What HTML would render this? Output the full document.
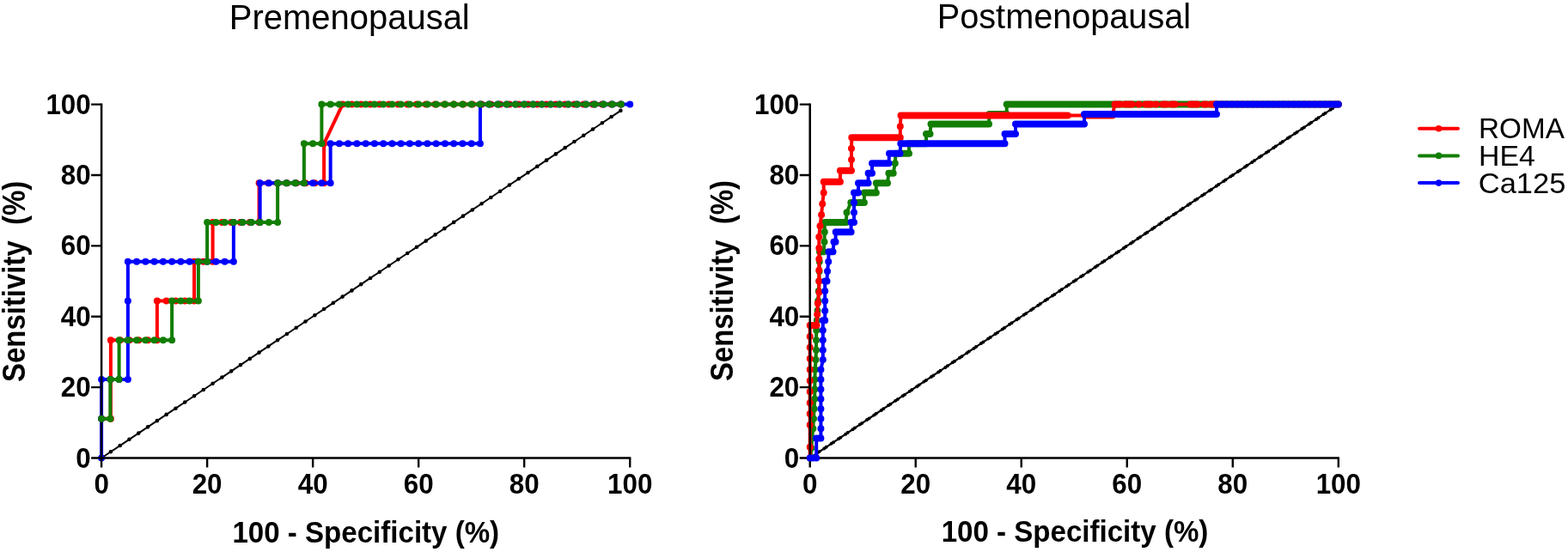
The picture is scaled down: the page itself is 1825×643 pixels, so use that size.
<!DOCTYPE html>
<html><head><meta charset="utf-8"><title>ROC curves</title>
<style>html,body{margin:0;padding:0;background:#fff}svg{display:block}</style>
</head><body>
<svg width="1825" height="643" viewBox="0 0 1825 643">
<style>
text{font-family:"Liberation Sans",Arial,sans-serif;fill:#000}
.tk{font-weight:bold;font-size:32.5px}
.tt{font-size:40.5px}
.at{font-weight:bold;font-size:36px}
.lg{font-size:33.8px}
</style>
<rect width="1825" height="643" fill="#fff"/>
<text transform="translate(406.8 34.1) scale(0.987 1)" text-anchor="middle" class="tt">Premenopausal</text>
<text transform="translate(1238.45 32.7) scale(0.979 1)" text-anchor="middle" class="tt">Postmenopausal</text>
<polyline points="118.1,533.5 128.89,526.27 139.68,519.05 150.47,511.82 161.26,504.59 172.06,497.37 182.85,490.14 193.64,482.92 204.43,475.69 215.22,468.46 226.01,461.24 236.8,454.01 247.59,446.78 258.39,439.56 269.18,432.33 279.97,425.11 290.76,417.88 301.55,410.65 312.34,403.43 323.13,396.2 333.92,388.97 344.72,381.75 355.51,374.52 366.3,367.29 377.09,360.07 387.88,352.84 398.67,345.62 409.46,338.39 420.25,331.16 431.05,323.94 441.84,316.71 452.63,309.48 463.42,302.26 474.21,295.03 485,287.81 495.79,280.58 506.58,273.35 517.38,266.13 528.17,258.9 538.96,251.67 549.75,244.45 560.54,237.22 571.33,229.99 582.12,222.77 592.91,215.54 603.71,208.32 614.5,201.09 625.29,193.86 636.08,186.64 646.87,179.41 657.66,172.18 668.45,164.96 679.24,157.73 690.04,150.51 700.83,143.28 711.62,136.05 722.41,128.83" fill="none" stroke="#000" stroke-width="2" stroke-linejoin="round" stroke-linecap="round"/>
<path d="M115.8 533.5a2.3 2.3 0 1 0 4.6 0a2.3 2.3 0 1 0 -4.6 0M126.59 526.27a2.3 2.3 0 1 0 4.6 0a2.3 2.3 0 1 0 -4.6 0M137.38 519.05a2.3 2.3 0 1 0 4.6 0a2.3 2.3 0 1 0 -4.6 0M148.17 511.82a2.3 2.3 0 1 0 4.6 0a2.3 2.3 0 1 0 -4.6 0M158.96 504.59a2.3 2.3 0 1 0 4.6 0a2.3 2.3 0 1 0 -4.6 0M169.76 497.37a2.3 2.3 0 1 0 4.6 0a2.3 2.3 0 1 0 -4.6 0M180.55 490.14a2.3 2.3 0 1 0 4.6 0a2.3 2.3 0 1 0 -4.6 0M191.34 482.92a2.3 2.3 0 1 0 4.6 0a2.3 2.3 0 1 0 -4.6 0M202.13 475.69a2.3 2.3 0 1 0 4.6 0a2.3 2.3 0 1 0 -4.6 0M212.92 468.46a2.3 2.3 0 1 0 4.6 0a2.3 2.3 0 1 0 -4.6 0M223.71 461.24a2.3 2.3 0 1 0 4.6 0a2.3 2.3 0 1 0 -4.6 0M234.5 454.01a2.3 2.3 0 1 0 4.6 0a2.3 2.3 0 1 0 -4.6 0M245.29 446.78a2.3 2.3 0 1 0 4.6 0a2.3 2.3 0 1 0 -4.6 0M256.09 439.56a2.3 2.3 0 1 0 4.6 0a2.3 2.3 0 1 0 -4.6 0M266.88 432.33a2.3 2.3 0 1 0 4.6 0a2.3 2.3 0 1 0 -4.6 0M277.67 425.11a2.3 2.3 0 1 0 4.6 0a2.3 2.3 0 1 0 -4.6 0M288.46 417.88a2.3 2.3 0 1 0 4.6 0a2.3 2.3 0 1 0 -4.6 0M299.25 410.65a2.3 2.3 0 1 0 4.6 0a2.3 2.3 0 1 0 -4.6 0M310.04 403.43a2.3 2.3 0 1 0 4.6 0a2.3 2.3 0 1 0 -4.6 0M320.83 396.2a2.3 2.3 0 1 0 4.6 0a2.3 2.3 0 1 0 -4.6 0M331.62 388.97a2.3 2.3 0 1 0 4.6 0a2.3 2.3 0 1 0 -4.6 0M342.42 381.75a2.3 2.3 0 1 0 4.6 0a2.3 2.3 0 1 0 -4.6 0M353.21 374.52a2.3 2.3 0 1 0 4.6 0a2.3 2.3 0 1 0 -4.6 0M364 367.29a2.3 2.3 0 1 0 4.6 0a2.3 2.3 0 1 0 -4.6 0M374.79 360.07a2.3 2.3 0 1 0 4.6 0a2.3 2.3 0 1 0 -4.6 0M385.58 352.84a2.3 2.3 0 1 0 4.6 0a2.3 2.3 0 1 0 -4.6 0M396.37 345.62a2.3 2.3 0 1 0 4.6 0a2.3 2.3 0 1 0 -4.6 0M407.16 338.39a2.3 2.3 0 1 0 4.6 0a2.3 2.3 0 1 0 -4.6 0M417.95 331.16a2.3 2.3 0 1 0 4.6 0a2.3 2.3 0 1 0 -4.6 0M428.75 323.94a2.3 2.3 0 1 0 4.6 0a2.3 2.3 0 1 0 -4.6 0M439.54 316.71a2.3 2.3 0 1 0 4.6 0a2.3 2.3 0 1 0 -4.6 0M450.33 309.48a2.3 2.3 0 1 0 4.6 0a2.3 2.3 0 1 0 -4.6 0M461.12 302.26a2.3 2.3 0 1 0 4.6 0a2.3 2.3 0 1 0 -4.6 0M471.91 295.03a2.3 2.3 0 1 0 4.6 0a2.3 2.3 0 1 0 -4.6 0M482.7 287.81a2.3 2.3 0 1 0 4.6 0a2.3 2.3 0 1 0 -4.6 0M493.49 280.58a2.3 2.3 0 1 0 4.6 0a2.3 2.3 0 1 0 -4.6 0M504.28 273.35a2.3 2.3 0 1 0 4.6 0a2.3 2.3 0 1 0 -4.6 0M515.08 266.13a2.3 2.3 0 1 0 4.6 0a2.3 2.3 0 1 0 -4.6 0M525.87 258.9a2.3 2.3 0 1 0 4.6 0a2.3 2.3 0 1 0 -4.6 0M536.66 251.67a2.3 2.3 0 1 0 4.6 0a2.3 2.3 0 1 0 -4.6 0M547.45 244.45a2.3 2.3 0 1 0 4.6 0a2.3 2.3 0 1 0 -4.6 0M558.24 237.22a2.3 2.3 0 1 0 4.6 0a2.3 2.3 0 1 0 -4.6 0M569.03 229.99a2.3 2.3 0 1 0 4.6 0a2.3 2.3 0 1 0 -4.6 0M579.82 222.77a2.3 2.3 0 1 0 4.6 0a2.3 2.3 0 1 0 -4.6 0M590.61 215.54a2.3 2.3 0 1 0 4.6 0a2.3 2.3 0 1 0 -4.6 0M601.41 208.32a2.3 2.3 0 1 0 4.6 0a2.3 2.3 0 1 0 -4.6 0M612.2 201.09a2.3 2.3 0 1 0 4.6 0a2.3 2.3 0 1 0 -4.6 0M622.99 193.86a2.3 2.3 0 1 0 4.6 0a2.3 2.3 0 1 0 -4.6 0M633.78 186.64a2.3 2.3 0 1 0 4.6 0a2.3 2.3 0 1 0 -4.6 0M644.57 179.41a2.3 2.3 0 1 0 4.6 0a2.3 2.3 0 1 0 -4.6 0M655.36 172.18a2.3 2.3 0 1 0 4.6 0a2.3 2.3 0 1 0 -4.6 0M666.15 164.96a2.3 2.3 0 1 0 4.6 0a2.3 2.3 0 1 0 -4.6 0M676.94 157.73a2.3 2.3 0 1 0 4.6 0a2.3 2.3 0 1 0 -4.6 0M687.74 150.51a2.3 2.3 0 1 0 4.6 0a2.3 2.3 0 1 0 -4.6 0M698.53 143.28a2.3 2.3 0 1 0 4.6 0a2.3 2.3 0 1 0 -4.6 0M709.32 136.05a2.3 2.3 0 1 0 4.6 0a2.3 2.3 0 1 0 -4.6 0M720.11 128.83a2.3 2.3 0 1 0 4.6 0a2.3 2.3 0 1 0 -4.6 0" fill="#000"/>
<polyline points="118.1,487.73 128.89,487.73 128.89,441.97 128.89,396.2 139.68,396.2 150.47,396.2 161.26,396.2 172.06,396.2 182.85,396.2 182.85,350.43 193.64,350.43 204.43,350.43 215.22,350.43 226.01,350.43 226.01,304.67 236.8,304.67 247.59,304.67 247.59,258.9 258.39,258.9 269.18,258.9 279.97,258.9 290.76,258.9 301.55,258.9 301.55,213.13 312.34,213.13 323.13,213.13 333.92,213.13 344.72,213.13 355.51,213.13 366.3,213.13 377.09,213.13 377.09,167.37 398.67,121.6 409.46,121.6 420.25,121.6 431.05,121.6 441.84,121.6 452.63,121.6 463.42,121.6 474.21,121.6 485,121.6 495.79,121.6 506.58,121.6 517.38,121.6 528.17,121.6 538.96,121.6 549.75,121.6 560.54,121.6 571.33,121.6 582.12,121.6 592.91,121.6 603.71,121.6 614.5,121.6 625.29,121.6 636.08,121.6 646.87,121.6 657.66,121.6 668.45,121.6 679.24,121.6 690.04,121.6 700.83,121.6 711.62,121.6 722.41,121.6" fill="none" stroke="#ff0000" stroke-width="4" stroke-linejoin="round" stroke-linecap="round"/>
<path d="M114.1 487.73a4 4 0 1 0 8 0a4 4 0 1 0 -8 0M124.89 487.73a4 4 0 1 0 8 0a4 4 0 1 0 -8 0M124.89 441.97a4 4 0 1 0 8 0a4 4 0 1 0 -8 0M124.89 396.2a4 4 0 1 0 8 0a4 4 0 1 0 -8 0M135.68 396.2a4 4 0 1 0 8 0a4 4 0 1 0 -8 0M146.47 396.2a4 4 0 1 0 8 0a4 4 0 1 0 -8 0M157.26 396.2a4 4 0 1 0 8 0a4 4 0 1 0 -8 0M168.06 396.2a4 4 0 1 0 8 0a4 4 0 1 0 -8 0M178.85 396.2a4 4 0 1 0 8 0a4 4 0 1 0 -8 0M178.85 350.43a4 4 0 1 0 8 0a4 4 0 1 0 -8 0M189.64 350.43a4 4 0 1 0 8 0a4 4 0 1 0 -8 0M200.43 350.43a4 4 0 1 0 8 0a4 4 0 1 0 -8 0M211.22 350.43a4 4 0 1 0 8 0a4 4 0 1 0 -8 0M222.01 350.43a4 4 0 1 0 8 0a4 4 0 1 0 -8 0M222.01 304.67a4 4 0 1 0 8 0a4 4 0 1 0 -8 0M232.8 304.67a4 4 0 1 0 8 0a4 4 0 1 0 -8 0M243.59 304.67a4 4 0 1 0 8 0a4 4 0 1 0 -8 0M243.59 258.9a4 4 0 1 0 8 0a4 4 0 1 0 -8 0M254.39 258.9a4 4 0 1 0 8 0a4 4 0 1 0 -8 0M265.18 258.9a4 4 0 1 0 8 0a4 4 0 1 0 -8 0M275.97 258.9a4 4 0 1 0 8 0a4 4 0 1 0 -8 0M286.76 258.9a4 4 0 1 0 8 0a4 4 0 1 0 -8 0M297.55 258.9a4 4 0 1 0 8 0a4 4 0 1 0 -8 0M297.55 213.13a4 4 0 1 0 8 0a4 4 0 1 0 -8 0M308.34 213.13a4 4 0 1 0 8 0a4 4 0 1 0 -8 0M319.13 213.13a4 4 0 1 0 8 0a4 4 0 1 0 -8 0M329.92 213.13a4 4 0 1 0 8 0a4 4 0 1 0 -8 0M340.72 213.13a4 4 0 1 0 8 0a4 4 0 1 0 -8 0M351.51 213.13a4 4 0 1 0 8 0a4 4 0 1 0 -8 0M362.3 213.13a4 4 0 1 0 8 0a4 4 0 1 0 -8 0M373.09 213.13a4 4 0 1 0 8 0a4 4 0 1 0 -8 0M373.09 167.37a4 4 0 1 0 8 0a4 4 0 1 0 -8 0M394.67 121.6a4 4 0 1 0 8 0a4 4 0 1 0 -8 0M405.46 121.6a4 4 0 1 0 8 0a4 4 0 1 0 -8 0M416.25 121.6a4 4 0 1 0 8 0a4 4 0 1 0 -8 0M427.05 121.6a4 4 0 1 0 8 0a4 4 0 1 0 -8 0M437.84 121.6a4 4 0 1 0 8 0a4 4 0 1 0 -8 0M448.63 121.6a4 4 0 1 0 8 0a4 4 0 1 0 -8 0M459.42 121.6a4 4 0 1 0 8 0a4 4 0 1 0 -8 0M470.21 121.6a4 4 0 1 0 8 0a4 4 0 1 0 -8 0M481 121.6a4 4 0 1 0 8 0a4 4 0 1 0 -8 0M491.79 121.6a4 4 0 1 0 8 0a4 4 0 1 0 -8 0M502.58 121.6a4 4 0 1 0 8 0a4 4 0 1 0 -8 0M513.38 121.6a4 4 0 1 0 8 0a4 4 0 1 0 -8 0M524.17 121.6a4 4 0 1 0 8 0a4 4 0 1 0 -8 0M534.96 121.6a4 4 0 1 0 8 0a4 4 0 1 0 -8 0M545.75 121.6a4 4 0 1 0 8 0a4 4 0 1 0 -8 0M556.54 121.6a4 4 0 1 0 8 0a4 4 0 1 0 -8 0M567.33 121.6a4 4 0 1 0 8 0a4 4 0 1 0 -8 0M578.12 121.6a4 4 0 1 0 8 0a4 4 0 1 0 -8 0M588.91 121.6a4 4 0 1 0 8 0a4 4 0 1 0 -8 0M599.71 121.6a4 4 0 1 0 8 0a4 4 0 1 0 -8 0M610.5 121.6a4 4 0 1 0 8 0a4 4 0 1 0 -8 0M621.29 121.6a4 4 0 1 0 8 0a4 4 0 1 0 -8 0M632.08 121.6a4 4 0 1 0 8 0a4 4 0 1 0 -8 0M642.87 121.6a4 4 0 1 0 8 0a4 4 0 1 0 -8 0M653.66 121.6a4 4 0 1 0 8 0a4 4 0 1 0 -8 0M664.45 121.6a4 4 0 1 0 8 0a4 4 0 1 0 -8 0M675.24 121.6a4 4 0 1 0 8 0a4 4 0 1 0 -8 0M686.04 121.6a4 4 0 1 0 8 0a4 4 0 1 0 -8 0M696.83 121.6a4 4 0 1 0 8 0a4 4 0 1 0 -8 0M707.62 121.6a4 4 0 1 0 8 0a4 4 0 1 0 -8 0M718.41 121.6a4 4 0 1 0 8 0a4 4 0 1 0 -8 0" fill="#ff0000"/>
<polyline points="118.1,533.5 118.1,487.73 118.1,441.97 128.35,441.97 138.6,441.97 148.85,441.97 148.85,396.2 148.85,350.43 148.85,304.67 159.11,304.67 169.36,304.67 179.61,304.67 189.86,304.67 200.11,304.67 210.37,304.67 220.62,304.67 230.87,304.67 241.12,304.67 251.37,304.67 261.62,304.67 271.88,304.67 271.88,258.9 282.13,258.9 292.38,258.9 302.63,258.9 302.63,213.13 312.88,213.13 323.13,213.13 333.38,213.13 343.64,213.13 353.89,213.13 364.14,213.13 374.39,213.13 384.64,213.13 384.64,167.37 394.89,167.37 405.15,167.37 415.4,167.37 425.65,167.37 435.9,167.37 446.15,167.37 456.41,167.37 466.66,167.37 476.91,167.37 487.16,167.37 497.41,167.37 507.66,167.37 517.92,167.37 528.17,167.37 538.42,167.37 548.67,167.37 558.92,167.37 558.92,121.6 569.17,121.6 579.43,121.6 589.68,121.6 599.93,121.6 610.18,121.6 620.43,121.6 630.68,121.6 640.94,121.6 651.19,121.6 661.44,121.6 671.69,121.6 681.94,121.6 692.19,121.6 702.45,121.6 712.7,121.6 722.95,121.6 733.2,121.6" fill="none" stroke="#0000ff" stroke-width="4" stroke-linejoin="round" stroke-linecap="round"/>
<path d="M114.1 533.5a4 4 0 1 0 8 0a4 4 0 1 0 -8 0M114.1 487.73a4 4 0 1 0 8 0a4 4 0 1 0 -8 0M114.1 441.97a4 4 0 1 0 8 0a4 4 0 1 0 -8 0M124.35 441.97a4 4 0 1 0 8 0a4 4 0 1 0 -8 0M134.6 441.97a4 4 0 1 0 8 0a4 4 0 1 0 -8 0M144.85 441.97a4 4 0 1 0 8 0a4 4 0 1 0 -8 0M144.85 396.2a4 4 0 1 0 8 0a4 4 0 1 0 -8 0M144.85 350.43a4 4 0 1 0 8 0a4 4 0 1 0 -8 0M144.85 304.67a4 4 0 1 0 8 0a4 4 0 1 0 -8 0M155.11 304.67a4 4 0 1 0 8 0a4 4 0 1 0 -8 0M165.36 304.67a4 4 0 1 0 8 0a4 4 0 1 0 -8 0M175.61 304.67a4 4 0 1 0 8 0a4 4 0 1 0 -8 0M185.86 304.67a4 4 0 1 0 8 0a4 4 0 1 0 -8 0M196.11 304.67a4 4 0 1 0 8 0a4 4 0 1 0 -8 0M206.37 304.67a4 4 0 1 0 8 0a4 4 0 1 0 -8 0M216.62 304.67a4 4 0 1 0 8 0a4 4 0 1 0 -8 0M226.87 304.67a4 4 0 1 0 8 0a4 4 0 1 0 -8 0M237.12 304.67a4 4 0 1 0 8 0a4 4 0 1 0 -8 0M247.37 304.67a4 4 0 1 0 8 0a4 4 0 1 0 -8 0M257.62 304.67a4 4 0 1 0 8 0a4 4 0 1 0 -8 0M267.88 304.67a4 4 0 1 0 8 0a4 4 0 1 0 -8 0M267.88 258.9a4 4 0 1 0 8 0a4 4 0 1 0 -8 0M278.13 258.9a4 4 0 1 0 8 0a4 4 0 1 0 -8 0M288.38 258.9a4 4 0 1 0 8 0a4 4 0 1 0 -8 0M298.63 258.9a4 4 0 1 0 8 0a4 4 0 1 0 -8 0M298.63 213.13a4 4 0 1 0 8 0a4 4 0 1 0 -8 0M308.88 213.13a4 4 0 1 0 8 0a4 4 0 1 0 -8 0M319.13 213.13a4 4 0 1 0 8 0a4 4 0 1 0 -8 0M329.38 213.13a4 4 0 1 0 8 0a4 4 0 1 0 -8 0M339.64 213.13a4 4 0 1 0 8 0a4 4 0 1 0 -8 0M349.89 213.13a4 4 0 1 0 8 0a4 4 0 1 0 -8 0M360.14 213.13a4 4 0 1 0 8 0a4 4 0 1 0 -8 0M370.39 213.13a4 4 0 1 0 8 0a4 4 0 1 0 -8 0M380.64 213.13a4 4 0 1 0 8 0a4 4 0 1 0 -8 0M380.64 167.37a4 4 0 1 0 8 0a4 4 0 1 0 -8 0M390.89 167.37a4 4 0 1 0 8 0a4 4 0 1 0 -8 0M401.15 167.37a4 4 0 1 0 8 0a4 4 0 1 0 -8 0M411.4 167.37a4 4 0 1 0 8 0a4 4 0 1 0 -8 0M421.65 167.37a4 4 0 1 0 8 0a4 4 0 1 0 -8 0M431.9 167.37a4 4 0 1 0 8 0a4 4 0 1 0 -8 0M442.15 167.37a4 4 0 1 0 8 0a4 4 0 1 0 -8 0M452.41 167.37a4 4 0 1 0 8 0a4 4 0 1 0 -8 0M462.66 167.37a4 4 0 1 0 8 0a4 4 0 1 0 -8 0M472.91 167.37a4 4 0 1 0 8 0a4 4 0 1 0 -8 0M483.16 167.37a4 4 0 1 0 8 0a4 4 0 1 0 -8 0M493.41 167.37a4 4 0 1 0 8 0a4 4 0 1 0 -8 0M503.66 167.37a4 4 0 1 0 8 0a4 4 0 1 0 -8 0M513.92 167.37a4 4 0 1 0 8 0a4 4 0 1 0 -8 0M524.17 167.37a4 4 0 1 0 8 0a4 4 0 1 0 -8 0M534.42 167.37a4 4 0 1 0 8 0a4 4 0 1 0 -8 0M544.67 167.37a4 4 0 1 0 8 0a4 4 0 1 0 -8 0M554.92 167.37a4 4 0 1 0 8 0a4 4 0 1 0 -8 0M554.92 121.6a4 4 0 1 0 8 0a4 4 0 1 0 -8 0M565.17 121.6a4 4 0 1 0 8 0a4 4 0 1 0 -8 0M575.43 121.6a4 4 0 1 0 8 0a4 4 0 1 0 -8 0M585.68 121.6a4 4 0 1 0 8 0a4 4 0 1 0 -8 0M595.93 121.6a4 4 0 1 0 8 0a4 4 0 1 0 -8 0M606.18 121.6a4 4 0 1 0 8 0a4 4 0 1 0 -8 0M616.43 121.6a4 4 0 1 0 8 0a4 4 0 1 0 -8 0M626.68 121.6a4 4 0 1 0 8 0a4 4 0 1 0 -8 0M636.94 121.6a4 4 0 1 0 8 0a4 4 0 1 0 -8 0M647.19 121.6a4 4 0 1 0 8 0a4 4 0 1 0 -8 0M657.44 121.6a4 4 0 1 0 8 0a4 4 0 1 0 -8 0M667.69 121.6a4 4 0 1 0 8 0a4 4 0 1 0 -8 0M677.94 121.6a4 4 0 1 0 8 0a4 4 0 1 0 -8 0M688.19 121.6a4 4 0 1 0 8 0a4 4 0 1 0 -8 0M698.45 121.6a4 4 0 1 0 8 0a4 4 0 1 0 -8 0M708.7 121.6a4 4 0 1 0 8 0a4 4 0 1 0 -8 0M718.95 121.6a4 4 0 1 0 8 0a4 4 0 1 0 -8 0M729.2 121.6a4 4 0 1 0 8 0a4 4 0 1 0 -8 0" fill="#0000ff"/>
<path d="M118.1 120.5V534.6M117 533.5H734.3" stroke="#000" stroke-width="2.5" fill="none"/>
<path d="M106.1 533.5H118.1M118.1 533.5V544.5M106.1 451.12H118.1M241.12 533.5V544.5M106.1 368.74H118.1M364.14 533.5V544.5M106.1 286.36H118.1M487.16 533.5V544.5M106.1 203.98H118.1M610.18 533.5V544.5M106.1 121.6H118.1M733.2 533.5V544.5" stroke="#000" stroke-width="2.4" fill="none"/>
<polyline points="118.1,487.73 128.35,487.73 128.35,441.97 138.6,441.97 138.6,396.2 148.85,396.2 159.11,396.2 169.36,396.2 179.61,396.2 189.86,396.2 200.11,396.2 200.11,350.43 210.37,350.43 220.62,350.43 230.87,350.43 230.87,304.67 241.12,304.67 241.12,258.9 251.37,258.9 261.62,258.9 271.88,258.9 282.13,258.9 292.38,258.9 302.63,258.9 312.88,258.9 323.13,258.9 323.13,213.13 333.38,213.13 343.64,213.13 353.89,213.13 353.89,167.37 364.14,167.37 374.39,167.37 374.39,121.6 384.64,121.6 394.89,121.6 405.15,121.6 415.4,121.6 425.65,121.6 435.9,121.6 446.15,121.6 456.41,121.6 466.66,121.6 476.91,121.6 487.16,121.6 497.41,121.6 507.66,121.6 517.92,121.6 528.17,121.6 538.42,121.6 548.67,121.6 558.92,121.6 569.17,121.6 579.43,121.6 589.68,121.6 599.93,121.6 610.18,121.6 620.43,121.6 630.68,121.6 640.94,121.6 651.19,121.6 661.44,121.6 671.69,121.6 681.94,121.6 692.19,121.6 702.45,121.6 712.7,121.6 722.95,121.6" fill="none" stroke="#127e03" stroke-width="4" stroke-linejoin="round" stroke-linecap="round"/>
<path d="M114.1 487.73a4 4 0 1 0 8 0a4 4 0 1 0 -8 0M124.35 487.73a4 4 0 1 0 8 0a4 4 0 1 0 -8 0M124.35 441.97a4 4 0 1 0 8 0a4 4 0 1 0 -8 0M134.6 441.97a4 4 0 1 0 8 0a4 4 0 1 0 -8 0M134.6 396.2a4 4 0 1 0 8 0a4 4 0 1 0 -8 0M144.85 396.2a4 4 0 1 0 8 0a4 4 0 1 0 -8 0M155.11 396.2a4 4 0 1 0 8 0a4 4 0 1 0 -8 0M165.36 396.2a4 4 0 1 0 8 0a4 4 0 1 0 -8 0M175.61 396.2a4 4 0 1 0 8 0a4 4 0 1 0 -8 0M185.86 396.2a4 4 0 1 0 8 0a4 4 0 1 0 -8 0M196.11 396.2a4 4 0 1 0 8 0a4 4 0 1 0 -8 0M196.11 350.43a4 4 0 1 0 8 0a4 4 0 1 0 -8 0M206.37 350.43a4 4 0 1 0 8 0a4 4 0 1 0 -8 0M216.62 350.43a4 4 0 1 0 8 0a4 4 0 1 0 -8 0M226.87 350.43a4 4 0 1 0 8 0a4 4 0 1 0 -8 0M226.87 304.67a4 4 0 1 0 8 0a4 4 0 1 0 -8 0M237.12 304.67a4 4 0 1 0 8 0a4 4 0 1 0 -8 0M237.12 258.9a4 4 0 1 0 8 0a4 4 0 1 0 -8 0M247.37 258.9a4 4 0 1 0 8 0a4 4 0 1 0 -8 0M257.62 258.9a4 4 0 1 0 8 0a4 4 0 1 0 -8 0M267.88 258.9a4 4 0 1 0 8 0a4 4 0 1 0 -8 0M278.13 258.9a4 4 0 1 0 8 0a4 4 0 1 0 -8 0M288.38 258.9a4 4 0 1 0 8 0a4 4 0 1 0 -8 0M298.63 258.9a4 4 0 1 0 8 0a4 4 0 1 0 -8 0M308.88 258.9a4 4 0 1 0 8 0a4 4 0 1 0 -8 0M319.13 258.9a4 4 0 1 0 8 0a4 4 0 1 0 -8 0M319.13 213.13a4 4 0 1 0 8 0a4 4 0 1 0 -8 0M329.38 213.13a4 4 0 1 0 8 0a4 4 0 1 0 -8 0M339.64 213.13a4 4 0 1 0 8 0a4 4 0 1 0 -8 0M349.89 213.13a4 4 0 1 0 8 0a4 4 0 1 0 -8 0M349.89 167.37a4 4 0 1 0 8 0a4 4 0 1 0 -8 0M360.14 167.37a4 4 0 1 0 8 0a4 4 0 1 0 -8 0M370.39 167.37a4 4 0 1 0 8 0a4 4 0 1 0 -8 0M370.39 121.6a4 4 0 1 0 8 0a4 4 0 1 0 -8 0M380.64 121.6a4 4 0 1 0 8 0a4 4 0 1 0 -8 0M390.89 121.6a4 4 0 1 0 8 0a4 4 0 1 0 -8 0M401.15 121.6a4 4 0 1 0 8 0a4 4 0 1 0 -8 0M411.4 121.6a4 4 0 1 0 8 0a4 4 0 1 0 -8 0M421.65 121.6a4 4 0 1 0 8 0a4 4 0 1 0 -8 0M431.9 121.6a4 4 0 1 0 8 0a4 4 0 1 0 -8 0M442.15 121.6a4 4 0 1 0 8 0a4 4 0 1 0 -8 0M452.41 121.6a4 4 0 1 0 8 0a4 4 0 1 0 -8 0M462.66 121.6a4 4 0 1 0 8 0a4 4 0 1 0 -8 0M472.91 121.6a4 4 0 1 0 8 0a4 4 0 1 0 -8 0M483.16 121.6a4 4 0 1 0 8 0a4 4 0 1 0 -8 0M493.41 121.6a4 4 0 1 0 8 0a4 4 0 1 0 -8 0M503.66 121.6a4 4 0 1 0 8 0a4 4 0 1 0 -8 0M513.92 121.6a4 4 0 1 0 8 0a4 4 0 1 0 -8 0M524.17 121.6a4 4 0 1 0 8 0a4 4 0 1 0 -8 0M534.42 121.6a4 4 0 1 0 8 0a4 4 0 1 0 -8 0M544.67 121.6a4 4 0 1 0 8 0a4 4 0 1 0 -8 0M554.92 121.6a4 4 0 1 0 8 0a4 4 0 1 0 -8 0M565.17 121.6a4 4 0 1 0 8 0a4 4 0 1 0 -8 0M575.43 121.6a4 4 0 1 0 8 0a4 4 0 1 0 -8 0M585.68 121.6a4 4 0 1 0 8 0a4 4 0 1 0 -8 0M595.93 121.6a4 4 0 1 0 8 0a4 4 0 1 0 -8 0M606.18 121.6a4 4 0 1 0 8 0a4 4 0 1 0 -8 0M616.43 121.6a4 4 0 1 0 8 0a4 4 0 1 0 -8 0M626.68 121.6a4 4 0 1 0 8 0a4 4 0 1 0 -8 0M636.94 121.6a4 4 0 1 0 8 0a4 4 0 1 0 -8 0M647.19 121.6a4 4 0 1 0 8 0a4 4 0 1 0 -8 0M657.44 121.6a4 4 0 1 0 8 0a4 4 0 1 0 -8 0M667.69 121.6a4 4 0 1 0 8 0a4 4 0 1 0 -8 0M677.94 121.6a4 4 0 1 0 8 0a4 4 0 1 0 -8 0M688.19 121.6a4 4 0 1 0 8 0a4 4 0 1 0 -8 0M698.45 121.6a4 4 0 1 0 8 0a4 4 0 1 0 -8 0M708.7 121.6a4 4 0 1 0 8 0a4 4 0 1 0 -8 0M718.95 121.6a4 4 0 1 0 8 0a4 4 0 1 0 -8 0" fill="#127e03"/>
<text transform="translate(105.7 544.55) scale(0.965 1)" text-anchor="end" class="tk">0</text>
<text transform="translate(118.1 574.5) scale(0.965 1)" text-anchor="middle" class="tk">0</text>
<text transform="translate(105.7 462.17) scale(0.965 1)" text-anchor="end" class="tk">20</text>
<text transform="translate(241.12 574.5) scale(0.965 1)" text-anchor="middle" class="tk">20</text>
<text transform="translate(105.7 379.79) scale(0.965 1)" text-anchor="end" class="tk">40</text>
<text transform="translate(364.14 574.5) scale(0.965 1)" text-anchor="middle" class="tk">40</text>
<text transform="translate(105.7 297.41) scale(0.965 1)" text-anchor="end" class="tk">60</text>
<text transform="translate(487.16 574.5) scale(0.965 1)" text-anchor="middle" class="tk">60</text>
<text transform="translate(105.7 215.03) scale(0.965 1)" text-anchor="end" class="tk">80</text>
<text transform="translate(610.18 574.5) scale(0.965 1)" text-anchor="middle" class="tk">80</text>
<text transform="translate(105.7 132.65) scale(0.965 1)" text-anchor="end" class="tk">100</text>
<text transform="translate(733.2 574.5) scale(0.965 1)" text-anchor="middle" class="tk">100</text>
<polyline points="942.7,533.5 1557.8,121.6" fill="none" stroke="#000" stroke-width="2.2" stroke-linejoin="round" stroke-linecap="round"/>
<path d="M940.7 533.5a2 2 0 1 0 4 0a2 2 0 1 0 -4 0M943.1 531.89a2 2 0 1 0 4 0a2 2 0 1 0 -4 0M949 527.94a2 2 0 1 0 4 0a2 2 0 1 0 -4 0M951.4 526.33a2 2 0 1 0 4 0a2 2 0 1 0 -4 0M957.3 522.38a2 2 0 1 0 4 0a2 2 0 1 0 -4 0M959.7 520.78a2 2 0 1 0 4 0a2 2 0 1 0 -4 0M965.6 516.83a2 2 0 1 0 4 0a2 2 0 1 0 -4 0M968 515.22a2 2 0 1 0 4 0a2 2 0 1 0 -4 0M973.9 511.27a2 2 0 1 0 4 0a2 2 0 1 0 -4 0M976.3 509.66a2 2 0 1 0 4 0a2 2 0 1 0 -4 0M982.2 505.71a2 2 0 1 0 4 0a2 2 0 1 0 -4 0M984.6 504.1a2 2 0 1 0 4 0a2 2 0 1 0 -4 0M990.5 500.15a2 2 0 1 0 4 0a2 2 0 1 0 -4 0M992.9 498.54a2 2 0 1 0 4 0a2 2 0 1 0 -4 0M998.8 494.59a2 2 0 1 0 4 0a2 2 0 1 0 -4 0M1001.2 492.99a2 2 0 1 0 4 0a2 2 0 1 0 -4 0M1007.1 489.04a2 2 0 1 0 4 0a2 2 0 1 0 -4 0M1009.5 487.43a2 2 0 1 0 4 0a2 2 0 1 0 -4 0M1015.4 483.48a2 2 0 1 0 4 0a2 2 0 1 0 -4 0M1017.8 481.87a2 2 0 1 0 4 0a2 2 0 1 0 -4 0M1023.7 477.92a2 2 0 1 0 4 0a2 2 0 1 0 -4 0M1026.1 476.31a2 2 0 1 0 4 0a2 2 0 1 0 -4 0M1032 472.36a2 2 0 1 0 4 0a2 2 0 1 0 -4 0M1034.4 470.75a2 2 0 1 0 4 0a2 2 0 1 0 -4 0M1040.3 466.8a2 2 0 1 0 4 0a2 2 0 1 0 -4 0M1042.7 465.2a2 2 0 1 0 4 0a2 2 0 1 0 -4 0M1048.6 461.25a2 2 0 1 0 4 0a2 2 0 1 0 -4 0M1051 459.64a2 2 0 1 0 4 0a2 2 0 1 0 -4 0M1056.9 455.69a2 2 0 1 0 4 0a2 2 0 1 0 -4 0M1059.3 454.08a2 2 0 1 0 4 0a2 2 0 1 0 -4 0M1065.2 450.13a2 2 0 1 0 4 0a2 2 0 1 0 -4 0M1067.6 448.52a2 2 0 1 0 4 0a2 2 0 1 0 -4 0M1073.5 444.57a2 2 0 1 0 4 0a2 2 0 1 0 -4 0M1075.9 442.96a2 2 0 1 0 4 0a2 2 0 1 0 -4 0M1081.8 439.01a2 2 0 1 0 4 0a2 2 0 1 0 -4 0M1084.2 437.41a2 2 0 1 0 4 0a2 2 0 1 0 -4 0M1090.1 433.45a2 2 0 1 0 4 0a2 2 0 1 0 -4 0M1092.5 431.85a2 2 0 1 0 4 0a2 2 0 1 0 -4 0M1098.4 427.9a2 2 0 1 0 4 0a2 2 0 1 0 -4 0M1100.8 426.29a2 2 0 1 0 4 0a2 2 0 1 0 -4 0M1106.7 422.34a2 2 0 1 0 4 0a2 2 0 1 0 -4 0M1109.1 420.73a2 2 0 1 0 4 0a2 2 0 1 0 -4 0M1115 416.78a2 2 0 1 0 4 0a2 2 0 1 0 -4 0M1117.4 415.17a2 2 0 1 0 4 0a2 2 0 1 0 -4 0M1123.3 411.22a2 2 0 1 0 4 0a2 2 0 1 0 -4 0M1125.7 409.62a2 2 0 1 0 4 0a2 2 0 1 0 -4 0M1131.6 405.66a2 2 0 1 0 4 0a2 2 0 1 0 -4 0M1134 404.06a2 2 0 1 0 4 0a2 2 0 1 0 -4 0M1139.9 400.11a2 2 0 1 0 4 0a2 2 0 1 0 -4 0M1142.3 398.5a2 2 0 1 0 4 0a2 2 0 1 0 -4 0M1148.2 394.55a2 2 0 1 0 4 0a2 2 0 1 0 -4 0M1150.6 392.94a2 2 0 1 0 4 0a2 2 0 1 0 -4 0M1156.5 388.99a2 2 0 1 0 4 0a2 2 0 1 0 -4 0M1158.9 387.38a2 2 0 1 0 4 0a2 2 0 1 0 -4 0M1164.8 383.43a2 2 0 1 0 4 0a2 2 0 1 0 -4 0M1167.2 381.82a2 2 0 1 0 4 0a2 2 0 1 0 -4 0M1173.1 377.87a2 2 0 1 0 4 0a2 2 0 1 0 -4 0M1175.5 376.27a2 2 0 1 0 4 0a2 2 0 1 0 -4 0M1181.4 372.32a2 2 0 1 0 4 0a2 2 0 1 0 -4 0M1183.8 370.71a2 2 0 1 0 4 0a2 2 0 1 0 -4 0M1189.7 366.76a2 2 0 1 0 4 0a2 2 0 1 0 -4 0M1192.1 365.15a2 2 0 1 0 4 0a2 2 0 1 0 -4 0M1198 361.2a2 2 0 1 0 4 0a2 2 0 1 0 -4 0M1200.4 359.59a2 2 0 1 0 4 0a2 2 0 1 0 -4 0M1206.3 355.64a2 2 0 1 0 4 0a2 2 0 1 0 -4 0M1208.7 354.03a2 2 0 1 0 4 0a2 2 0 1 0 -4 0M1214.6 350.08a2 2 0 1 0 4 0a2 2 0 1 0 -4 0M1217 348.48a2 2 0 1 0 4 0a2 2 0 1 0 -4 0M1222.9 344.53a2 2 0 1 0 4 0a2 2 0 1 0 -4 0M1225.3 342.92a2 2 0 1 0 4 0a2 2 0 1 0 -4 0M1231.2 338.97a2 2 0 1 0 4 0a2 2 0 1 0 -4 0M1233.6 337.36a2 2 0 1 0 4 0a2 2 0 1 0 -4 0M1239.5 333.41a2 2 0 1 0 4 0a2 2 0 1 0 -4 0M1241.9 331.8a2 2 0 1 0 4 0a2 2 0 1 0 -4 0M1247.8 327.85a2 2 0 1 0 4 0a2 2 0 1 0 -4 0M1250.2 326.24a2 2 0 1 0 4 0a2 2 0 1 0 -4 0M1256.1 322.29a2 2 0 1 0 4 0a2 2 0 1 0 -4 0M1258.5 320.69a2 2 0 1 0 4 0a2 2 0 1 0 -4 0M1264.4 316.74a2 2 0 1 0 4 0a2 2 0 1 0 -4 0M1266.8 315.13a2 2 0 1 0 4 0a2 2 0 1 0 -4 0M1272.7 311.18a2 2 0 1 0 4 0a2 2 0 1 0 -4 0M1275.1 309.57a2 2 0 1 0 4 0a2 2 0 1 0 -4 0M1281 305.62a2 2 0 1 0 4 0a2 2 0 1 0 -4 0M1283.4 304.01a2 2 0 1 0 4 0a2 2 0 1 0 -4 0M1289.3 300.06a2 2 0 1 0 4 0a2 2 0 1 0 -4 0M1291.7 298.45a2 2 0 1 0 4 0a2 2 0 1 0 -4 0M1297.6 294.5a2 2 0 1 0 4 0a2 2 0 1 0 -4 0M1300 292.9a2 2 0 1 0 4 0a2 2 0 1 0 -4 0M1305.9 288.94a2 2 0 1 0 4 0a2 2 0 1 0 -4 0M1308.3 287.34a2 2 0 1 0 4 0a2 2 0 1 0 -4 0M1314.2 283.39a2 2 0 1 0 4 0a2 2 0 1 0 -4 0M1316.6 281.78a2 2 0 1 0 4 0a2 2 0 1 0 -4 0M1322.5 277.83a2 2 0 1 0 4 0a2 2 0 1 0 -4 0M1324.9 276.22a2 2 0 1 0 4 0a2 2 0 1 0 -4 0M1330.8 272.27a2 2 0 1 0 4 0a2 2 0 1 0 -4 0M1333.2 270.66a2 2 0 1 0 4 0a2 2 0 1 0 -4 0M1339.1 266.71a2 2 0 1 0 4 0a2 2 0 1 0 -4 0M1341.5 265.11a2 2 0 1 0 4 0a2 2 0 1 0 -4 0M1347.4 261.15a2 2 0 1 0 4 0a2 2 0 1 0 -4 0M1349.8 259.55a2 2 0 1 0 4 0a2 2 0 1 0 -4 0M1355.7 255.6a2 2 0 1 0 4 0a2 2 0 1 0 -4 0M1358.1 253.99a2 2 0 1 0 4 0a2 2 0 1 0 -4 0M1364 250.04a2 2 0 1 0 4 0a2 2 0 1 0 -4 0M1366.4 248.43a2 2 0 1 0 4 0a2 2 0 1 0 -4 0M1372.3 244.48a2 2 0 1 0 4 0a2 2 0 1 0 -4 0M1374.7 242.87a2 2 0 1 0 4 0a2 2 0 1 0 -4 0M1380.6 238.92a2 2 0 1 0 4 0a2 2 0 1 0 -4 0M1383 237.32a2 2 0 1 0 4 0a2 2 0 1 0 -4 0M1388.9 233.36a2 2 0 1 0 4 0a2 2 0 1 0 -4 0M1391.3 231.76a2 2 0 1 0 4 0a2 2 0 1 0 -4 0M1397.2 227.81a2 2 0 1 0 4 0a2 2 0 1 0 -4 0M1399.6 226.2a2 2 0 1 0 4 0a2 2 0 1 0 -4 0M1405.5 222.25a2 2 0 1 0 4 0a2 2 0 1 0 -4 0M1407.9 220.64a2 2 0 1 0 4 0a2 2 0 1 0 -4 0M1413.8 216.69a2 2 0 1 0 4 0a2 2 0 1 0 -4 0M1416.2 215.08a2 2 0 1 0 4 0a2 2 0 1 0 -4 0M1422.1 211.13a2 2 0 1 0 4 0a2 2 0 1 0 -4 0M1424.5 209.52a2 2 0 1 0 4 0a2 2 0 1 0 -4 0M1430.4 205.57a2 2 0 1 0 4 0a2 2 0 1 0 -4 0M1432.8 203.97a2 2 0 1 0 4 0a2 2 0 1 0 -4 0M1438.7 200.02a2 2 0 1 0 4 0a2 2 0 1 0 -4 0M1441.1 198.41a2 2 0 1 0 4 0a2 2 0 1 0 -4 0M1447 194.46a2 2 0 1 0 4 0a2 2 0 1 0 -4 0M1449.4 192.85a2 2 0 1 0 4 0a2 2 0 1 0 -4 0M1455.3 188.9a2 2 0 1 0 4 0a2 2 0 1 0 -4 0M1457.7 187.29a2 2 0 1 0 4 0a2 2 0 1 0 -4 0M1463.6 183.34a2 2 0 1 0 4 0a2 2 0 1 0 -4 0M1466 181.73a2 2 0 1 0 4 0a2 2 0 1 0 -4 0M1471.9 177.78a2 2 0 1 0 4 0a2 2 0 1 0 -4 0M1474.3 176.18a2 2 0 1 0 4 0a2 2 0 1 0 -4 0M1480.2 172.23a2 2 0 1 0 4 0a2 2 0 1 0 -4 0M1482.6 170.62a2 2 0 1 0 4 0a2 2 0 1 0 -4 0M1488.5 166.67a2 2 0 1 0 4 0a2 2 0 1 0 -4 0M1490.9 165.06a2 2 0 1 0 4 0a2 2 0 1 0 -4 0M1496.8 161.11a2 2 0 1 0 4 0a2 2 0 1 0 -4 0M1499.2 159.5a2 2 0 1 0 4 0a2 2 0 1 0 -4 0M1505.1 155.55a2 2 0 1 0 4 0a2 2 0 1 0 -4 0M1507.5 153.94a2 2 0 1 0 4 0a2 2 0 1 0 -4 0M1513.4 149.99a2 2 0 1 0 4 0a2 2 0 1 0 -4 0M1515.8 148.39a2 2 0 1 0 4 0a2 2 0 1 0 -4 0M1521.7 144.43a2 2 0 1 0 4 0a2 2 0 1 0 -4 0M1524.1 142.83a2 2 0 1 0 4 0a2 2 0 1 0 -4 0M1530 138.88a2 2 0 1 0 4 0a2 2 0 1 0 -4 0M1532.4 137.27a2 2 0 1 0 4 0a2 2 0 1 0 -4 0M1538.3 133.32a2 2 0 1 0 4 0a2 2 0 1 0 -4 0M1540.7 131.71a2 2 0 1 0 4 0a2 2 0 1 0 -4 0M1546.6 127.76a2 2 0 1 0 4 0a2 2 0 1 0 -4 0M1549 126.15a2 2 0 1 0 4 0a2 2 0 1 0 -4 0M1554.9 122.2a2 2 0 1 0 4 0a2 2 0 1 0 -4 0" fill="#000"/>
<polyline points="943.5,533.5 944.3,522.06 945.2,510.62 946.3,499.18 947,487.73 947.6,476.29 948.2,464.85 948.3,453.41 948.4,441.97 948.7,430.52 949.5,419.08 950,407.64 950,396.2 950.2,384.76 950.8,373.32 951.5,361.88 952.2,350.43 952.8,338.99 953.3,327.55 953.6,316.11 953.8,304.67 954,293.23 958.8,293.23 959.5,281.78 959.8,270.34 959.8,258.9 984.8,258.9 985.5,247.46 990.3,236.02 1005.9,236.02 1005.9,224.58 1019.8,224.58 1019.8,213.13 1033,213.13 1034.4,201.69 1039.7,201.69 1041.8,190.25 1042.5,178.81 1058,178.81 1058,167.37 1078,167.37 1078,155.93 1082.5,155.93 1083.5,144.48 1151,144.48 1151.5,133.04 1171.7,133.04 1171.7,121.6 1557.8,121.6" fill="none" stroke="#127e03" stroke-width="4" stroke-linejoin="round" stroke-linecap="round"/>
<path d="M939.5 533.5a4 4 0 1 0 8 0a4 4 0 1 0 -8 0M940.3 522.06a4 4 0 1 0 8 0a4 4 0 1 0 -8 0M941.2 510.62a4 4 0 1 0 8 0a4 4 0 1 0 -8 0M942.3 499.18a4 4 0 1 0 8 0a4 4 0 1 0 -8 0M943 487.73a4 4 0 1 0 8 0a4 4 0 1 0 -8 0M943.6 476.29a4 4 0 1 0 8 0a4 4 0 1 0 -8 0M944.2 464.85a4 4 0 1 0 8 0a4 4 0 1 0 -8 0M944.3 453.41a4 4 0 1 0 8 0a4 4 0 1 0 -8 0M944.4 441.97a4 4 0 1 0 8 0a4 4 0 1 0 -8 0M944.7 430.52a4 4 0 1 0 8 0a4 4 0 1 0 -8 0M945.5 419.08a4 4 0 1 0 8 0a4 4 0 1 0 -8 0M946 407.64a4 4 0 1 0 8 0a4 4 0 1 0 -8 0M946 396.2a4 4 0 1 0 8 0a4 4 0 1 0 -8 0M946.2 384.76a4 4 0 1 0 8 0a4 4 0 1 0 -8 0M946.8 373.32a4 4 0 1 0 8 0a4 4 0 1 0 -8 0M947.5 361.88a4 4 0 1 0 8 0a4 4 0 1 0 -8 0M948.2 350.43a4 4 0 1 0 8 0a4 4 0 1 0 -8 0M948.8 338.99a4 4 0 1 0 8 0a4 4 0 1 0 -8 0M949.3 327.55a4 4 0 1 0 8 0a4 4 0 1 0 -8 0M949.6 316.11a4 4 0 1 0 8 0a4 4 0 1 0 -8 0M949.8 304.67a4 4 0 1 0 8 0a4 4 0 1 0 -8 0M950 293.23a4 4 0 1 0 8 0a4 4 0 1 0 -8 0M952.4 293.23a4 4 0 1 0 8 0a4 4 0 1 0 -8 0M954.8 293.23a4 4 0 1 0 8 0a4 4 0 1 0 -8 0M955.5 281.78a4 4 0 1 0 8 0a4 4 0 1 0 -8 0M955.8 270.34a4 4 0 1 0 8 0a4 4 0 1 0 -8 0M955.8 258.9a4 4 0 1 0 8 0a4 4 0 1 0 -8 0M957.88 258.9a4 4 0 1 0 8 0a4 4 0 1 0 -8 0M959.97 258.9a4 4 0 1 0 8 0a4 4 0 1 0 -8 0M962.05 258.9a4 4 0 1 0 8 0a4 4 0 1 0 -8 0M964.13 258.9a4 4 0 1 0 8 0a4 4 0 1 0 -8 0M966.22 258.9a4 4 0 1 0 8 0a4 4 0 1 0 -8 0M968.3 258.9a4 4 0 1 0 8 0a4 4 0 1 0 -8 0M970.38 258.9a4 4 0 1 0 8 0a4 4 0 1 0 -8 0M972.47 258.9a4 4 0 1 0 8 0a4 4 0 1 0 -8 0M974.55 258.9a4 4 0 1 0 8 0a4 4 0 1 0 -8 0M976.63 258.9a4 4 0 1 0 8 0a4 4 0 1 0 -8 0M978.72 258.9a4 4 0 1 0 8 0a4 4 0 1 0 -8 0M980.8 258.9a4 4 0 1 0 8 0a4 4 0 1 0 -8 0M981.5 247.46a4 4 0 1 0 8 0a4 4 0 1 0 -8 0M986.3 236.02a4 4 0 1 0 8 0a4 4 0 1 0 -8 0M988.53 236.02a4 4 0 1 0 8 0a4 4 0 1 0 -8 0M990.76 236.02a4 4 0 1 0 8 0a4 4 0 1 0 -8 0M992.99 236.02a4 4 0 1 0 8 0a4 4 0 1 0 -8 0M995.21 236.02a4 4 0 1 0 8 0a4 4 0 1 0 -8 0M997.44 236.02a4 4 0 1 0 8 0a4 4 0 1 0 -8 0M999.67 236.02a4 4 0 1 0 8 0a4 4 0 1 0 -8 0M1001.9 236.02a4 4 0 1 0 8 0a4 4 0 1 0 -8 0M1001.9 224.58a4 4 0 1 0 8 0a4 4 0 1 0 -8 0M1004.22 224.58a4 4 0 1 0 8 0a4 4 0 1 0 -8 0M1006.53 224.58a4 4 0 1 0 8 0a4 4 0 1 0 -8 0M1008.85 224.58a4 4 0 1 0 8 0a4 4 0 1 0 -8 0M1011.17 224.58a4 4 0 1 0 8 0a4 4 0 1 0 -8 0M1013.48 224.58a4 4 0 1 0 8 0a4 4 0 1 0 -8 0M1015.8 224.58a4 4 0 1 0 8 0a4 4 0 1 0 -8 0M1015.8 213.13a4 4 0 1 0 8 0a4 4 0 1 0 -8 0M1018 213.13a4 4 0 1 0 8 0a4 4 0 1 0 -8 0M1020.2 213.13a4 4 0 1 0 8 0a4 4 0 1 0 -8 0M1022.4 213.13a4 4 0 1 0 8 0a4 4 0 1 0 -8 0M1024.6 213.13a4 4 0 1 0 8 0a4 4 0 1 0 -8 0M1026.8 213.13a4 4 0 1 0 8 0a4 4 0 1 0 -8 0M1029 213.13a4 4 0 1 0 8 0a4 4 0 1 0 -8 0M1030.4 201.69a4 4 0 1 0 8 0a4 4 0 1 0 -8 0M1033.05 201.69a4 4 0 1 0 8 0a4 4 0 1 0 -8 0M1035.7 201.69a4 4 0 1 0 8 0a4 4 0 1 0 -8 0M1037.8 190.25a4 4 0 1 0 8 0a4 4 0 1 0 -8 0M1038.5 178.81a4 4 0 1 0 8 0a4 4 0 1 0 -8 0M1040.71 178.81a4 4 0 1 0 8 0a4 4 0 1 0 -8 0M1042.93 178.81a4 4 0 1 0 8 0a4 4 0 1 0 -8 0M1045.14 178.81a4 4 0 1 0 8 0a4 4 0 1 0 -8 0M1047.36 178.81a4 4 0 1 0 8 0a4 4 0 1 0 -8 0M1049.57 178.81a4 4 0 1 0 8 0a4 4 0 1 0 -8 0M1051.79 178.81a4 4 0 1 0 8 0a4 4 0 1 0 -8 0M1054 178.81a4 4 0 1 0 8 0a4 4 0 1 0 -8 0M1054 167.37a4 4 0 1 0 8 0a4 4 0 1 0 -8 0M1056 167.37a4 4 0 1 0 8 0a4 4 0 1 0 -8 0M1058 167.37a4 4 0 1 0 8 0a4 4 0 1 0 -8 0M1060 167.37a4 4 0 1 0 8 0a4 4 0 1 0 -8 0M1062 167.37a4 4 0 1 0 8 0a4 4 0 1 0 -8 0M1064 167.37a4 4 0 1 0 8 0a4 4 0 1 0 -8 0M1066 167.37a4 4 0 1 0 8 0a4 4 0 1 0 -8 0M1068 167.37a4 4 0 1 0 8 0a4 4 0 1 0 -8 0M1070 167.37a4 4 0 1 0 8 0a4 4 0 1 0 -8 0M1072 167.37a4 4 0 1 0 8 0a4 4 0 1 0 -8 0M1074 167.37a4 4 0 1 0 8 0a4 4 0 1 0 -8 0M1074 155.93a4 4 0 1 0 8 0a4 4 0 1 0 -8 0M1076.25 155.93a4 4 0 1 0 8 0a4 4 0 1 0 -8 0M1078.5 155.93a4 4 0 1 0 8 0a4 4 0 1 0 -8 0M1079.5 144.48a4 4 0 1 0 8 0a4 4 0 1 0 -8 0M1081.55 144.48a4 4 0 1 0 8 0a4 4 0 1 0 -8 0M1083.59 144.48a4 4 0 1 0 8 0a4 4 0 1 0 -8 0M1085.64 144.48a4 4 0 1 0 8 0a4 4 0 1 0 -8 0M1087.68 144.48a4 4 0 1 0 8 0a4 4 0 1 0 -8 0M1089.73 144.48a4 4 0 1 0 8 0a4 4 0 1 0 -8 0M1091.77 144.48a4 4 0 1 0 8 0a4 4 0 1 0 -8 0M1093.82 144.48a4 4 0 1 0 8 0a4 4 0 1 0 -8 0M1095.86 144.48a4 4 0 1 0 8 0a4 4 0 1 0 -8 0M1097.91 144.48a4 4 0 1 0 8 0a4 4 0 1 0 -8 0M1099.95 144.48a4 4 0 1 0 8 0a4 4 0 1 0 -8 0M1102 144.48a4 4 0 1 0 8 0a4 4 0 1 0 -8 0M1104.05 144.48a4 4 0 1 0 8 0a4 4 0 1 0 -8 0M1106.09 144.48a4 4 0 1 0 8 0a4 4 0 1 0 -8 0M1108.14 144.48a4 4 0 1 0 8 0a4 4 0 1 0 -8 0M1110.18 144.48a4 4 0 1 0 8 0a4 4 0 1 0 -8 0M1112.23 144.48a4 4 0 1 0 8 0a4 4 0 1 0 -8 0M1114.27 144.48a4 4 0 1 0 8 0a4 4 0 1 0 -8 0M1116.32 144.48a4 4 0 1 0 8 0a4 4 0 1 0 -8 0M1118.36 144.48a4 4 0 1 0 8 0a4 4 0 1 0 -8 0M1120.41 144.48a4 4 0 1 0 8 0a4 4 0 1 0 -8 0M1122.45 144.48a4 4 0 1 0 8 0a4 4 0 1 0 -8 0M1124.5 144.48a4 4 0 1 0 8 0a4 4 0 1 0 -8 0M1126.55 144.48a4 4 0 1 0 8 0a4 4 0 1 0 -8 0M1128.59 144.48a4 4 0 1 0 8 0a4 4 0 1 0 -8 0M1130.64 144.48a4 4 0 1 0 8 0a4 4 0 1 0 -8 0M1132.68 144.48a4 4 0 1 0 8 0a4 4 0 1 0 -8 0M1134.73 144.48a4 4 0 1 0 8 0a4 4 0 1 0 -8 0M1136.77 144.48a4 4 0 1 0 8 0a4 4 0 1 0 -8 0M1138.82 144.48a4 4 0 1 0 8 0a4 4 0 1 0 -8 0M1140.86 144.48a4 4 0 1 0 8 0a4 4 0 1 0 -8 0M1142.91 144.48a4 4 0 1 0 8 0a4 4 0 1 0 -8 0M1144.95 144.48a4 4 0 1 0 8 0a4 4 0 1 0 -8 0M1147 144.48a4 4 0 1 0 8 0a4 4 0 1 0 -8 0M1147.5 133.04a4 4 0 1 0 8 0a4 4 0 1 0 -8 0M1149.52 133.04a4 4 0 1 0 8 0a4 4 0 1 0 -8 0M1151.54 133.04a4 4 0 1 0 8 0a4 4 0 1 0 -8 0M1153.56 133.04a4 4 0 1 0 8 0a4 4 0 1 0 -8 0M1155.58 133.04a4 4 0 1 0 8 0a4 4 0 1 0 -8 0M1157.6 133.04a4 4 0 1 0 8 0a4 4 0 1 0 -8 0M1159.62 133.04a4 4 0 1 0 8 0a4 4 0 1 0 -8 0M1161.64 133.04a4 4 0 1 0 8 0a4 4 0 1 0 -8 0M1163.66 133.04a4 4 0 1 0 8 0a4 4 0 1 0 -8 0M1165.68 133.04a4 4 0 1 0 8 0a4 4 0 1 0 -8 0M1167.7 133.04a4 4 0 1 0 8 0a4 4 0 1 0 -8 0M1167.7 121.6a4 4 0 1 0 8 0a4 4 0 1 0 -8 0M1169.7 121.6a4 4 0 1 0 8 0a4 4 0 1 0 -8 0M1171.7 121.6a4 4 0 1 0 8 0a4 4 0 1 0 -8 0M1173.7 121.6a4 4 0 1 0 8 0a4 4 0 1 0 -8 0M1175.7 121.6a4 4 0 1 0 8 0a4 4 0 1 0 -8 0M1177.7 121.6a4 4 0 1 0 8 0a4 4 0 1 0 -8 0M1179.7 121.6a4 4 0 1 0 8 0a4 4 0 1 0 -8 0M1181.7 121.6a4 4 0 1 0 8 0a4 4 0 1 0 -8 0M1183.7 121.6a4 4 0 1 0 8 0a4 4 0 1 0 -8 0M1185.7 121.6a4 4 0 1 0 8 0a4 4 0 1 0 -8 0M1187.71 121.6a4 4 0 1 0 8 0a4 4 0 1 0 -8 0M1189.71 121.6a4 4 0 1 0 8 0a4 4 0 1 0 -8 0M1191.71 121.6a4 4 0 1 0 8 0a4 4 0 1 0 -8 0M1193.71 121.6a4 4 0 1 0 8 0a4 4 0 1 0 -8 0M1195.71 121.6a4 4 0 1 0 8 0a4 4 0 1 0 -8 0M1197.71 121.6a4 4 0 1 0 8 0a4 4 0 1 0 -8 0M1199.71 121.6a4 4 0 1 0 8 0a4 4 0 1 0 -8 0M1201.71 121.6a4 4 0 1 0 8 0a4 4 0 1 0 -8 0M1203.71 121.6a4 4 0 1 0 8 0a4 4 0 1 0 -8 0M1205.71 121.6a4 4 0 1 0 8 0a4 4 0 1 0 -8 0M1207.71 121.6a4 4 0 1 0 8 0a4 4 0 1 0 -8 0M1209.71 121.6a4 4 0 1 0 8 0a4 4 0 1 0 -8 0M1211.71 121.6a4 4 0 1 0 8 0a4 4 0 1 0 -8 0M1213.71 121.6a4 4 0 1 0 8 0a4 4 0 1 0 -8 0M1215.71 121.6a4 4 0 1 0 8 0a4 4 0 1 0 -8 0M1217.71 121.6a4 4 0 1 0 8 0a4 4 0 1 0 -8 0M1219.71 121.6a4 4 0 1 0 8 0a4 4 0 1 0 -8 0M1221.71 121.6a4 4 0 1 0 8 0a4 4 0 1 0 -8 0M1223.71 121.6a4 4 0 1 0 8 0a4 4 0 1 0 -8 0M1225.72 121.6a4 4 0 1 0 8 0a4 4 0 1 0 -8 0M1227.72 121.6a4 4 0 1 0 8 0a4 4 0 1 0 -8 0M1229.72 121.6a4 4 0 1 0 8 0a4 4 0 1 0 -8 0M1231.72 121.6a4 4 0 1 0 8 0a4 4 0 1 0 -8 0M1233.72 121.6a4 4 0 1 0 8 0a4 4 0 1 0 -8 0M1235.72 121.6a4 4 0 1 0 8 0a4 4 0 1 0 -8 0M1237.72 121.6a4 4 0 1 0 8 0a4 4 0 1 0 -8 0M1239.72 121.6a4 4 0 1 0 8 0a4 4 0 1 0 -8 0M1241.72 121.6a4 4 0 1 0 8 0a4 4 0 1 0 -8 0M1243.72 121.6a4 4 0 1 0 8 0a4 4 0 1 0 -8 0M1245.72 121.6a4 4 0 1 0 8 0a4 4 0 1 0 -8 0M1247.72 121.6a4 4 0 1 0 8 0a4 4 0 1 0 -8 0M1249.72 121.6a4 4 0 1 0 8 0a4 4 0 1 0 -8 0M1251.72 121.6a4 4 0 1 0 8 0a4 4 0 1 0 -8 0M1253.72 121.6a4 4 0 1 0 8 0a4 4 0 1 0 -8 0M1255.72 121.6a4 4 0 1 0 8 0a4 4 0 1 0 -8 0M1257.72 121.6a4 4 0 1 0 8 0a4 4 0 1 0 -8 0M1259.72 121.6a4 4 0 1 0 8 0a4 4 0 1 0 -8 0M1261.72 121.6a4 4 0 1 0 8 0a4 4 0 1 0 -8 0M1263.72 121.6a4 4 0 1 0 8 0a4 4 0 1 0 -8 0M1265.73 121.6a4 4 0 1 0 8 0a4 4 0 1 0 -8 0M1267.73 121.6a4 4 0 1 0 8 0a4 4 0 1 0 -8 0M1269.73 121.6a4 4 0 1 0 8 0a4 4 0 1 0 -8 0M1271.73 121.6a4 4 0 1 0 8 0a4 4 0 1 0 -8 0M1273.73 121.6a4 4 0 1 0 8 0a4 4 0 1 0 -8 0M1275.73 121.6a4 4 0 1 0 8 0a4 4 0 1 0 -8 0M1277.73 121.6a4 4 0 1 0 8 0a4 4 0 1 0 -8 0M1279.73 121.6a4 4 0 1 0 8 0a4 4 0 1 0 -8 0M1281.73 121.6a4 4 0 1 0 8 0a4 4 0 1 0 -8 0M1283.73 121.6a4 4 0 1 0 8 0a4 4 0 1 0 -8 0M1285.73 121.6a4 4 0 1 0 8 0a4 4 0 1 0 -8 0M1287.73 121.6a4 4 0 1 0 8 0a4 4 0 1 0 -8 0M1289.73 121.6a4 4 0 1 0 8 0a4 4 0 1 0 -8 0M1291.73 121.6a4 4 0 1 0 8 0a4 4 0 1 0 -8 0M1293.73 121.6a4 4 0 1 0 8 0a4 4 0 1 0 -8 0M1295.73 121.6a4 4 0 1 0 8 0a4 4 0 1 0 -8 0M1297.73 121.6a4 4 0 1 0 8 0a4 4 0 1 0 -8 0M1299.73 121.6a4 4 0 1 0 8 0a4 4 0 1 0 -8 0M1301.73 121.6a4 4 0 1 0 8 0a4 4 0 1 0 -8 0M1303.74 121.6a4 4 0 1 0 8 0a4 4 0 1 0 -8 0M1305.74 121.6a4 4 0 1 0 8 0a4 4 0 1 0 -8 0M1307.74 121.6a4 4 0 1 0 8 0a4 4 0 1 0 -8 0M1309.74 121.6a4 4 0 1 0 8 0a4 4 0 1 0 -8 0M1311.74 121.6a4 4 0 1 0 8 0a4 4 0 1 0 -8 0M1313.74 121.6a4 4 0 1 0 8 0a4 4 0 1 0 -8 0M1315.74 121.6a4 4 0 1 0 8 0a4 4 0 1 0 -8 0M1317.74 121.6a4 4 0 1 0 8 0a4 4 0 1 0 -8 0M1319.74 121.6a4 4 0 1 0 8 0a4 4 0 1 0 -8 0M1321.74 121.6a4 4 0 1 0 8 0a4 4 0 1 0 -8 0M1323.74 121.6a4 4 0 1 0 8 0a4 4 0 1 0 -8 0M1325.74 121.6a4 4 0 1 0 8 0a4 4 0 1 0 -8 0M1327.74 121.6a4 4 0 1 0 8 0a4 4 0 1 0 -8 0M1329.74 121.6a4 4 0 1 0 8 0a4 4 0 1 0 -8 0M1331.74 121.6a4 4 0 1 0 8 0a4 4 0 1 0 -8 0M1333.74 121.6a4 4 0 1 0 8 0a4 4 0 1 0 -8 0M1335.74 121.6a4 4 0 1 0 8 0a4 4 0 1 0 -8 0M1337.74 121.6a4 4 0 1 0 8 0a4 4 0 1 0 -8 0M1339.74 121.6a4 4 0 1 0 8 0a4 4 0 1 0 -8 0M1341.75 121.6a4 4 0 1 0 8 0a4 4 0 1 0 -8 0M1343.75 121.6a4 4 0 1 0 8 0a4 4 0 1 0 -8 0M1345.75 121.6a4 4 0 1 0 8 0a4 4 0 1 0 -8 0M1347.75 121.6a4 4 0 1 0 8 0a4 4 0 1 0 -8 0M1349.75 121.6a4 4 0 1 0 8 0a4 4 0 1 0 -8 0M1351.75 121.6a4 4 0 1 0 8 0a4 4 0 1 0 -8 0M1353.75 121.6a4 4 0 1 0 8 0a4 4 0 1 0 -8 0M1355.75 121.6a4 4 0 1 0 8 0a4 4 0 1 0 -8 0M1357.75 121.6a4 4 0 1 0 8 0a4 4 0 1 0 -8 0M1359.75 121.6a4 4 0 1 0 8 0a4 4 0 1 0 -8 0M1361.75 121.6a4 4 0 1 0 8 0a4 4 0 1 0 -8 0M1363.75 121.6a4 4 0 1 0 8 0a4 4 0 1 0 -8 0M1365.75 121.6a4 4 0 1 0 8 0a4 4 0 1 0 -8 0M1367.75 121.6a4 4 0 1 0 8 0a4 4 0 1 0 -8 0M1369.75 121.6a4 4 0 1 0 8 0a4 4 0 1 0 -8 0M1371.75 121.6a4 4 0 1 0 8 0a4 4 0 1 0 -8 0M1373.75 121.6a4 4 0 1 0 8 0a4 4 0 1 0 -8 0M1375.75 121.6a4 4 0 1 0 8 0a4 4 0 1 0 -8 0M1377.75 121.6a4 4 0 1 0 8 0a4 4 0 1 0 -8 0M1379.75 121.6a4 4 0 1 0 8 0a4 4 0 1 0 -8 0M1381.76 121.6a4 4 0 1 0 8 0a4 4 0 1 0 -8 0M1383.76 121.6a4 4 0 1 0 8 0a4 4 0 1 0 -8 0M1385.76 121.6a4 4 0 1 0 8 0a4 4 0 1 0 -8 0M1387.76 121.6a4 4 0 1 0 8 0a4 4 0 1 0 -8 0M1389.76 121.6a4 4 0 1 0 8 0a4 4 0 1 0 -8 0M1391.76 121.6a4 4 0 1 0 8 0a4 4 0 1 0 -8 0M1393.76 121.6a4 4 0 1 0 8 0a4 4 0 1 0 -8 0M1395.76 121.6a4 4 0 1 0 8 0a4 4 0 1 0 -8 0M1397.76 121.6a4 4 0 1 0 8 0a4 4 0 1 0 -8 0M1399.76 121.6a4 4 0 1 0 8 0a4 4 0 1 0 -8 0M1401.76 121.6a4 4 0 1 0 8 0a4 4 0 1 0 -8 0M1403.76 121.6a4 4 0 1 0 8 0a4 4 0 1 0 -8 0M1405.76 121.6a4 4 0 1 0 8 0a4 4 0 1 0 -8 0M1407.76 121.6a4 4 0 1 0 8 0a4 4 0 1 0 -8 0M1409.76 121.6a4 4 0 1 0 8 0a4 4 0 1 0 -8 0M1411.76 121.6a4 4 0 1 0 8 0a4 4 0 1 0 -8 0M1413.76 121.6a4 4 0 1 0 8 0a4 4 0 1 0 -8 0M1415.76 121.6a4 4 0 1 0 8 0a4 4 0 1 0 -8 0M1417.76 121.6a4 4 0 1 0 8 0a4 4 0 1 0 -8 0M1419.77 121.6a4 4 0 1 0 8 0a4 4 0 1 0 -8 0M1421.77 121.6a4 4 0 1 0 8 0a4 4 0 1 0 -8 0M1423.77 121.6a4 4 0 1 0 8 0a4 4 0 1 0 -8 0M1425.77 121.6a4 4 0 1 0 8 0a4 4 0 1 0 -8 0M1427.77 121.6a4 4 0 1 0 8 0a4 4 0 1 0 -8 0M1429.77 121.6a4 4 0 1 0 8 0a4 4 0 1 0 -8 0M1431.77 121.6a4 4 0 1 0 8 0a4 4 0 1 0 -8 0M1433.77 121.6a4 4 0 1 0 8 0a4 4 0 1 0 -8 0M1435.77 121.6a4 4 0 1 0 8 0a4 4 0 1 0 -8 0M1437.77 121.6a4 4 0 1 0 8 0a4 4 0 1 0 -8 0M1439.77 121.6a4 4 0 1 0 8 0a4 4 0 1 0 -8 0M1441.77 121.6a4 4 0 1 0 8 0a4 4 0 1 0 -8 0M1443.77 121.6a4 4 0 1 0 8 0a4 4 0 1 0 -8 0M1445.77 121.6a4 4 0 1 0 8 0a4 4 0 1 0 -8 0M1447.77 121.6a4 4 0 1 0 8 0a4 4 0 1 0 -8 0M1449.77 121.6a4 4 0 1 0 8 0a4 4 0 1 0 -8 0M1451.77 121.6a4 4 0 1 0 8 0a4 4 0 1 0 -8 0M1453.77 121.6a4 4 0 1 0 8 0a4 4 0 1 0 -8 0M1455.77 121.6a4 4 0 1 0 8 0a4 4 0 1 0 -8 0M1457.78 121.6a4 4 0 1 0 8 0a4 4 0 1 0 -8 0M1459.78 121.6a4 4 0 1 0 8 0a4 4 0 1 0 -8 0M1461.78 121.6a4 4 0 1 0 8 0a4 4 0 1 0 -8 0M1463.78 121.6a4 4 0 1 0 8 0a4 4 0 1 0 -8 0M1465.78 121.6a4 4 0 1 0 8 0a4 4 0 1 0 -8 0M1467.78 121.6a4 4 0 1 0 8 0a4 4 0 1 0 -8 0M1469.78 121.6a4 4 0 1 0 8 0a4 4 0 1 0 -8 0M1471.78 121.6a4 4 0 1 0 8 0a4 4 0 1 0 -8 0M1473.78 121.6a4 4 0 1 0 8 0a4 4 0 1 0 -8 0M1475.78 121.6a4 4 0 1 0 8 0a4 4 0 1 0 -8 0M1477.78 121.6a4 4 0 1 0 8 0a4 4 0 1 0 -8 0M1479.78 121.6a4 4 0 1 0 8 0a4 4 0 1 0 -8 0M1481.78 121.6a4 4 0 1 0 8 0a4 4 0 1 0 -8 0M1483.78 121.6a4 4 0 1 0 8 0a4 4 0 1 0 -8 0M1485.78 121.6a4 4 0 1 0 8 0a4 4 0 1 0 -8 0M1487.78 121.6a4 4 0 1 0 8 0a4 4 0 1 0 -8 0M1489.78 121.6a4 4 0 1 0 8 0a4 4 0 1 0 -8 0M1491.78 121.6a4 4 0 1 0 8 0a4 4 0 1 0 -8 0M1493.78 121.6a4 4 0 1 0 8 0a4 4 0 1 0 -8 0M1495.78 121.6a4 4 0 1 0 8 0a4 4 0 1 0 -8 0M1497.79 121.6a4 4 0 1 0 8 0a4 4 0 1 0 -8 0M1499.79 121.6a4 4 0 1 0 8 0a4 4 0 1 0 -8 0M1501.79 121.6a4 4 0 1 0 8 0a4 4 0 1 0 -8 0M1503.79 121.6a4 4 0 1 0 8 0a4 4 0 1 0 -8 0M1505.79 121.6a4 4 0 1 0 8 0a4 4 0 1 0 -8 0M1507.79 121.6a4 4 0 1 0 8 0a4 4 0 1 0 -8 0M1509.79 121.6a4 4 0 1 0 8 0a4 4 0 1 0 -8 0M1511.79 121.6a4 4 0 1 0 8 0a4 4 0 1 0 -8 0M1513.79 121.6a4 4 0 1 0 8 0a4 4 0 1 0 -8 0M1515.79 121.6a4 4 0 1 0 8 0a4 4 0 1 0 -8 0M1517.79 121.6a4 4 0 1 0 8 0a4 4 0 1 0 -8 0M1519.79 121.6a4 4 0 1 0 8 0a4 4 0 1 0 -8 0M1521.79 121.6a4 4 0 1 0 8 0a4 4 0 1 0 -8 0M1523.79 121.6a4 4 0 1 0 8 0a4 4 0 1 0 -8 0M1525.79 121.6a4 4 0 1 0 8 0a4 4 0 1 0 -8 0M1527.79 121.6a4 4 0 1 0 8 0a4 4 0 1 0 -8 0M1529.79 121.6a4 4 0 1 0 8 0a4 4 0 1 0 -8 0M1531.79 121.6a4 4 0 1 0 8 0a4 4 0 1 0 -8 0M1533.79 121.6a4 4 0 1 0 8 0a4 4 0 1 0 -8 0M1535.8 121.6a4 4 0 1 0 8 0a4 4 0 1 0 -8 0M1537.8 121.6a4 4 0 1 0 8 0a4 4 0 1 0 -8 0M1539.8 121.6a4 4 0 1 0 8 0a4 4 0 1 0 -8 0M1541.8 121.6a4 4 0 1 0 8 0a4 4 0 1 0 -8 0M1543.8 121.6a4 4 0 1 0 8 0a4 4 0 1 0 -8 0M1545.8 121.6a4 4 0 1 0 8 0a4 4 0 1 0 -8 0M1547.8 121.6a4 4 0 1 0 8 0a4 4 0 1 0 -8 0M1549.8 121.6a4 4 0 1 0 8 0a4 4 0 1 0 -8 0M1551.8 121.6a4 4 0 1 0 8 0a4 4 0 1 0 -8 0M1553.8 121.6a4 4 0 1 0 8 0a4 4 0 1 0 -8 0" fill="#127e03"/>
<polyline points="942.7,533.5 942.7,520.63 942.7,494.88 942.7,482.01 942.7,469.14 942.7,456.27 942.7,443.4 942.7,430.52 942.7,417.65 942.7,404.78 942.7,391.91 942.7,379.04 950.5,379.04 951.2,366.17 951.8,353.29 953.4,340.42 953.3,327.55 953.3,314.68 953.3,301.81 953.3,288.93 953.3,276.06 954.5,263.19 956.1,250.32 957.2,237.45 958.7,224.58 958.7,211.7 977.9,211.7 977.9,198.83 991,198.83 991,185.96 991,173.09 991.3,160.22 1047.8,160.22 1047.8,147.34 1048.5,134.47 1294.8,134.47 1297.5,121.6 1557.8,121.6" fill="none" stroke="#ff0000" stroke-width="4" stroke-linejoin="round" stroke-linecap="round"/>
<path d="M938.7 533.5a4 4 0 1 0 8 0a4 4 0 1 0 -8 0M938.7 520.63a4 4 0 1 0 8 0a4 4 0 1 0 -8 0M938.7 494.88a4 4 0 1 0 8 0a4 4 0 1 0 -8 0M938.7 482.01a4 4 0 1 0 8 0a4 4 0 1 0 -8 0M938.7 469.14a4 4 0 1 0 8 0a4 4 0 1 0 -8 0M938.7 456.27a4 4 0 1 0 8 0a4 4 0 1 0 -8 0M938.7 443.4a4 4 0 1 0 8 0a4 4 0 1 0 -8 0M938.7 430.52a4 4 0 1 0 8 0a4 4 0 1 0 -8 0M938.7 417.65a4 4 0 1 0 8 0a4 4 0 1 0 -8 0M938.7 404.78a4 4 0 1 0 8 0a4 4 0 1 0 -8 0M938.7 391.91a4 4 0 1 0 8 0a4 4 0 1 0 -8 0M938.7 379.04a4 4 0 1 0 8 0a4 4 0 1 0 -8 0M941.3 379.04a4 4 0 1 0 8 0a4 4 0 1 0 -8 0M943.9 379.04a4 4 0 1 0 8 0a4 4 0 1 0 -8 0M946.5 379.04a4 4 0 1 0 8 0a4 4 0 1 0 -8 0M947.2 366.17a4 4 0 1 0 8 0a4 4 0 1 0 -8 0M947.8 353.29a4 4 0 1 0 8 0a4 4 0 1 0 -8 0M949.4 340.42a4 4 0 1 0 8 0a4 4 0 1 0 -8 0M949.3 327.55a4 4 0 1 0 8 0a4 4 0 1 0 -8 0M949.3 314.68a4 4 0 1 0 8 0a4 4 0 1 0 -8 0M949.3 301.81a4 4 0 1 0 8 0a4 4 0 1 0 -8 0M949.3 288.93a4 4 0 1 0 8 0a4 4 0 1 0 -8 0M949.3 276.06a4 4 0 1 0 8 0a4 4 0 1 0 -8 0M950.5 263.19a4 4 0 1 0 8 0a4 4 0 1 0 -8 0M952.1 250.32a4 4 0 1 0 8 0a4 4 0 1 0 -8 0M953.2 237.45a4 4 0 1 0 8 0a4 4 0 1 0 -8 0M954.7 224.58a4 4 0 1 0 8 0a4 4 0 1 0 -8 0M954.7 211.7a4 4 0 1 0 8 0a4 4 0 1 0 -8 0M956.83 211.7a4 4 0 1 0 8 0a4 4 0 1 0 -8 0M958.97 211.7a4 4 0 1 0 8 0a4 4 0 1 0 -8 0M961.1 211.7a4 4 0 1 0 8 0a4 4 0 1 0 -8 0M963.23 211.7a4 4 0 1 0 8 0a4 4 0 1 0 -8 0M965.37 211.7a4 4 0 1 0 8 0a4 4 0 1 0 -8 0M967.5 211.7a4 4 0 1 0 8 0a4 4 0 1 0 -8 0M969.63 211.7a4 4 0 1 0 8 0a4 4 0 1 0 -8 0M971.77 211.7a4 4 0 1 0 8 0a4 4 0 1 0 -8 0M973.9 211.7a4 4 0 1 0 8 0a4 4 0 1 0 -8 0M973.9 198.83a4 4 0 1 0 8 0a4 4 0 1 0 -8 0M976.08 198.83a4 4 0 1 0 8 0a4 4 0 1 0 -8 0M978.27 198.83a4 4 0 1 0 8 0a4 4 0 1 0 -8 0M980.45 198.83a4 4 0 1 0 8 0a4 4 0 1 0 -8 0M982.63 198.83a4 4 0 1 0 8 0a4 4 0 1 0 -8 0M984.82 198.83a4 4 0 1 0 8 0a4 4 0 1 0 -8 0M987 198.83a4 4 0 1 0 8 0a4 4 0 1 0 -8 0M987 185.96a4 4 0 1 0 8 0a4 4 0 1 0 -8 0M987 173.09a4 4 0 1 0 8 0a4 4 0 1 0 -8 0M987.3 160.22a4 4 0 1 0 8 0a4 4 0 1 0 -8 0M989.32 160.22a4 4 0 1 0 8 0a4 4 0 1 0 -8 0M991.34 160.22a4 4 0 1 0 8 0a4 4 0 1 0 -8 0M993.35 160.22a4 4 0 1 0 8 0a4 4 0 1 0 -8 0M995.37 160.22a4 4 0 1 0 8 0a4 4 0 1 0 -8 0M997.39 160.22a4 4 0 1 0 8 0a4 4 0 1 0 -8 0M999.41 160.22a4 4 0 1 0 8 0a4 4 0 1 0 -8 0M1001.42 160.22a4 4 0 1 0 8 0a4 4 0 1 0 -8 0M1003.44 160.22a4 4 0 1 0 8 0a4 4 0 1 0 -8 0M1005.46 160.22a4 4 0 1 0 8 0a4 4 0 1 0 -8 0M1007.48 160.22a4 4 0 1 0 8 0a4 4 0 1 0 -8 0M1009.5 160.22a4 4 0 1 0 8 0a4 4 0 1 0 -8 0M1011.51 160.22a4 4 0 1 0 8 0a4 4 0 1 0 -8 0M1013.53 160.22a4 4 0 1 0 8 0a4 4 0 1 0 -8 0M1015.55 160.22a4 4 0 1 0 8 0a4 4 0 1 0 -8 0M1017.57 160.22a4 4 0 1 0 8 0a4 4 0 1 0 -8 0M1019.59 160.22a4 4 0 1 0 8 0a4 4 0 1 0 -8 0M1021.6 160.22a4 4 0 1 0 8 0a4 4 0 1 0 -8 0M1023.62 160.22a4 4 0 1 0 8 0a4 4 0 1 0 -8 0M1025.64 160.22a4 4 0 1 0 8 0a4 4 0 1 0 -8 0M1027.66 160.22a4 4 0 1 0 8 0a4 4 0 1 0 -8 0M1029.67 160.22a4 4 0 1 0 8 0a4 4 0 1 0 -8 0M1031.69 160.22a4 4 0 1 0 8 0a4 4 0 1 0 -8 0M1033.71 160.22a4 4 0 1 0 8 0a4 4 0 1 0 -8 0M1035.73 160.22a4 4 0 1 0 8 0a4 4 0 1 0 -8 0M1037.75 160.22a4 4 0 1 0 8 0a4 4 0 1 0 -8 0M1039.76 160.22a4 4 0 1 0 8 0a4 4 0 1 0 -8 0M1041.78 160.22a4 4 0 1 0 8 0a4 4 0 1 0 -8 0M1043.8 160.22a4 4 0 1 0 8 0a4 4 0 1 0 -8 0M1043.8 147.34a4 4 0 1 0 8 0a4 4 0 1 0 -8 0M1044.5 134.47a4 4 0 1 0 8 0a4 4 0 1 0 -8 0M1046.5 134.47a4 4 0 1 0 8 0a4 4 0 1 0 -8 0M1048.5 134.47a4 4 0 1 0 8 0a4 4 0 1 0 -8 0M1050.51 134.47a4 4 0 1 0 8 0a4 4 0 1 0 -8 0M1052.51 134.47a4 4 0 1 0 8 0a4 4 0 1 0 -8 0M1054.51 134.47a4 4 0 1 0 8 0a4 4 0 1 0 -8 0M1056.51 134.47a4 4 0 1 0 8 0a4 4 0 1 0 -8 0M1058.52 134.47a4 4 0 1 0 8 0a4 4 0 1 0 -8 0M1060.52 134.47a4 4 0 1 0 8 0a4 4 0 1 0 -8 0M1062.52 134.47a4 4 0 1 0 8 0a4 4 0 1 0 -8 0M1064.52 134.47a4 4 0 1 0 8 0a4 4 0 1 0 -8 0M1066.53 134.47a4 4 0 1 0 8 0a4 4 0 1 0 -8 0M1068.53 134.47a4 4 0 1 0 8 0a4 4 0 1 0 -8 0M1070.53 134.47a4 4 0 1 0 8 0a4 4 0 1 0 -8 0M1072.53 134.47a4 4 0 1 0 8 0a4 4 0 1 0 -8 0M1074.54 134.47a4 4 0 1 0 8 0a4 4 0 1 0 -8 0M1076.54 134.47a4 4 0 1 0 8 0a4 4 0 1 0 -8 0M1078.54 134.47a4 4 0 1 0 8 0a4 4 0 1 0 -8 0M1080.54 134.47a4 4 0 1 0 8 0a4 4 0 1 0 -8 0M1082.55 134.47a4 4 0 1 0 8 0a4 4 0 1 0 -8 0M1084.55 134.47a4 4 0 1 0 8 0a4 4 0 1 0 -8 0M1086.55 134.47a4 4 0 1 0 8 0a4 4 0 1 0 -8 0M1088.55 134.47a4 4 0 1 0 8 0a4 4 0 1 0 -8 0M1090.56 134.47a4 4 0 1 0 8 0a4 4 0 1 0 -8 0M1092.56 134.47a4 4 0 1 0 8 0a4 4 0 1 0 -8 0M1094.56 134.47a4 4 0 1 0 8 0a4 4 0 1 0 -8 0M1096.56 134.47a4 4 0 1 0 8 0a4 4 0 1 0 -8 0M1098.57 134.47a4 4 0 1 0 8 0a4 4 0 1 0 -8 0M1100.57 134.47a4 4 0 1 0 8 0a4 4 0 1 0 -8 0M1102.57 134.47a4 4 0 1 0 8 0a4 4 0 1 0 -8 0M1104.57 134.47a4 4 0 1 0 8 0a4 4 0 1 0 -8 0M1106.58 134.47a4 4 0 1 0 8 0a4 4 0 1 0 -8 0M1108.58 134.47a4 4 0 1 0 8 0a4 4 0 1 0 -8 0M1110.58 134.47a4 4 0 1 0 8 0a4 4 0 1 0 -8 0M1112.58 134.47a4 4 0 1 0 8 0a4 4 0 1 0 -8 0M1114.59 134.47a4 4 0 1 0 8 0a4 4 0 1 0 -8 0M1116.59 134.47a4 4 0 1 0 8 0a4 4 0 1 0 -8 0M1118.59 134.47a4 4 0 1 0 8 0a4 4 0 1 0 -8 0M1120.59 134.47a4 4 0 1 0 8 0a4 4 0 1 0 -8 0M1122.6 134.47a4 4 0 1 0 8 0a4 4 0 1 0 -8 0M1124.6 134.47a4 4 0 1 0 8 0a4 4 0 1 0 -8 0M1126.6 134.47a4 4 0 1 0 8 0a4 4 0 1 0 -8 0M1128.6 134.47a4 4 0 1 0 8 0a4 4 0 1 0 -8 0M1130.6 134.47a4 4 0 1 0 8 0a4 4 0 1 0 -8 0M1132.61 134.47a4 4 0 1 0 8 0a4 4 0 1 0 -8 0M1134.61 134.47a4 4 0 1 0 8 0a4 4 0 1 0 -8 0M1136.61 134.47a4 4 0 1 0 8 0a4 4 0 1 0 -8 0M1138.61 134.47a4 4 0 1 0 8 0a4 4 0 1 0 -8 0M1140.62 134.47a4 4 0 1 0 8 0a4 4 0 1 0 -8 0M1142.62 134.47a4 4 0 1 0 8 0a4 4 0 1 0 -8 0M1144.62 134.47a4 4 0 1 0 8 0a4 4 0 1 0 -8 0M1146.62 134.47a4 4 0 1 0 8 0a4 4 0 1 0 -8 0M1148.63 134.47a4 4 0 1 0 8 0a4 4 0 1 0 -8 0M1150.63 134.47a4 4 0 1 0 8 0a4 4 0 1 0 -8 0M1152.63 134.47a4 4 0 1 0 8 0a4 4 0 1 0 -8 0M1154.63 134.47a4 4 0 1 0 8 0a4 4 0 1 0 -8 0M1156.64 134.47a4 4 0 1 0 8 0a4 4 0 1 0 -8 0M1158.64 134.47a4 4 0 1 0 8 0a4 4 0 1 0 -8 0M1160.64 134.47a4 4 0 1 0 8 0a4 4 0 1 0 -8 0M1162.64 134.47a4 4 0 1 0 8 0a4 4 0 1 0 -8 0M1164.65 134.47a4 4 0 1 0 8 0a4 4 0 1 0 -8 0M1166.65 134.47a4 4 0 1 0 8 0a4 4 0 1 0 -8 0M1168.65 134.47a4 4 0 1 0 8 0a4 4 0 1 0 -8 0M1170.65 134.47a4 4 0 1 0 8 0a4 4 0 1 0 -8 0M1172.66 134.47a4 4 0 1 0 8 0a4 4 0 1 0 -8 0M1174.66 134.47a4 4 0 1 0 8 0a4 4 0 1 0 -8 0M1176.66 134.47a4 4 0 1 0 8 0a4 4 0 1 0 -8 0M1178.66 134.47a4 4 0 1 0 8 0a4 4 0 1 0 -8 0M1180.67 134.47a4 4 0 1 0 8 0a4 4 0 1 0 -8 0M1182.67 134.47a4 4 0 1 0 8 0a4 4 0 1 0 -8 0M1184.67 134.47a4 4 0 1 0 8 0a4 4 0 1 0 -8 0M1186.67 134.47a4 4 0 1 0 8 0a4 4 0 1 0 -8 0M1188.68 134.47a4 4 0 1 0 8 0a4 4 0 1 0 -8 0M1190.68 134.47a4 4 0 1 0 8 0a4 4 0 1 0 -8 0M1192.68 134.47a4 4 0 1 0 8 0a4 4 0 1 0 -8 0M1194.68 134.47a4 4 0 1 0 8 0a4 4 0 1 0 -8 0M1196.69 134.47a4 4 0 1 0 8 0a4 4 0 1 0 -8 0M1198.69 134.47a4 4 0 1 0 8 0a4 4 0 1 0 -8 0M1200.69 134.47a4 4 0 1 0 8 0a4 4 0 1 0 -8 0M1202.69 134.47a4 4 0 1 0 8 0a4 4 0 1 0 -8 0M1204.7 134.47a4 4 0 1 0 8 0a4 4 0 1 0 -8 0M1206.7 134.47a4 4 0 1 0 8 0a4 4 0 1 0 -8 0M1208.7 134.47a4 4 0 1 0 8 0a4 4 0 1 0 -8 0M1210.7 134.47a4 4 0 1 0 8 0a4 4 0 1 0 -8 0M1212.7 134.47a4 4 0 1 0 8 0a4 4 0 1 0 -8 0M1214.71 134.47a4 4 0 1 0 8 0a4 4 0 1 0 -8 0M1216.71 134.47a4 4 0 1 0 8 0a4 4 0 1 0 -8 0M1218.71 134.47a4 4 0 1 0 8 0a4 4 0 1 0 -8 0M1220.71 134.47a4 4 0 1 0 8 0a4 4 0 1 0 -8 0M1222.72 134.47a4 4 0 1 0 8 0a4 4 0 1 0 -8 0M1224.72 134.47a4 4 0 1 0 8 0a4 4 0 1 0 -8 0M1226.72 134.47a4 4 0 1 0 8 0a4 4 0 1 0 -8 0M1228.72 134.47a4 4 0 1 0 8 0a4 4 0 1 0 -8 0M1230.73 134.47a4 4 0 1 0 8 0a4 4 0 1 0 -8 0M1232.73 134.47a4 4 0 1 0 8 0a4 4 0 1 0 -8 0M1234.73 134.47a4 4 0 1 0 8 0a4 4 0 1 0 -8 0M1236.73 134.47a4 4 0 1 0 8 0a4 4 0 1 0 -8 0M1238.74 134.47a4 4 0 1 0 8 0a4 4 0 1 0 -8 0M1258.76 134.47a4 4 0 1 0 8 0a4 4 0 1 0 -8 0M1260.76 134.47a4 4 0 1 0 8 0a4 4 0 1 0 -8 0M1262.77 134.47a4 4 0 1 0 8 0a4 4 0 1 0 -8 0M1264.77 134.47a4 4 0 1 0 8 0a4 4 0 1 0 -8 0M1266.77 134.47a4 4 0 1 0 8 0a4 4 0 1 0 -8 0M1268.77 134.47a4 4 0 1 0 8 0a4 4 0 1 0 -8 0M1270.78 134.47a4 4 0 1 0 8 0a4 4 0 1 0 -8 0M1272.78 134.47a4 4 0 1 0 8 0a4 4 0 1 0 -8 0M1274.78 134.47a4 4 0 1 0 8 0a4 4 0 1 0 -8 0M1276.78 134.47a4 4 0 1 0 8 0a4 4 0 1 0 -8 0M1278.79 134.47a4 4 0 1 0 8 0a4 4 0 1 0 -8 0M1280.79 134.47a4 4 0 1 0 8 0a4 4 0 1 0 -8 0M1282.79 134.47a4 4 0 1 0 8 0a4 4 0 1 0 -8 0M1284.79 134.47a4 4 0 1 0 8 0a4 4 0 1 0 -8 0M1286.8 134.47a4 4 0 1 0 8 0a4 4 0 1 0 -8 0M1288.8 134.47a4 4 0 1 0 8 0a4 4 0 1 0 -8 0M1290.8 134.47a4 4 0 1 0 8 0a4 4 0 1 0 -8 0M1293.5 121.6a4 4 0 1 0 8 0a4 4 0 1 0 -8 0M1293.5 121.6a4 4 0 1 0 8 0a4 4 0 1 0 -8 0M1295.5 121.6a4 4 0 1 0 8 0a4 4 0 1 0 -8 0M1297.5 121.6a4 4 0 1 0 8 0a4 4 0 1 0 -8 0M1299.5 121.6a4 4 0 1 0 8 0a4 4 0 1 0 -8 0M1305.5 121.6a4 4 0 1 0 8 0a4 4 0 1 0 -8 0M1307.5 121.6a4 4 0 1 0 8 0a4 4 0 1 0 -8 0M1309.5 121.6a4 4 0 1 0 8 0a4 4 0 1 0 -8 0M1311.5 121.6a4 4 0 1 0 8 0a4 4 0 1 0 -8 0M1313.5 121.6a4 4 0 1 0 8 0a4 4 0 1 0 -8 0M1321.5 121.6a4 4 0 1 0 8 0a4 4 0 1 0 -8 0M1329.5 121.6a4 4 0 1 0 8 0a4 4 0 1 0 -8 0M1331.5 121.6a4 4 0 1 0 8 0a4 4 0 1 0 -8 0M1333.5 121.6a4 4 0 1 0 8 0a4 4 0 1 0 -8 0M1335.5 121.6a4 4 0 1 0 8 0a4 4 0 1 0 -8 0M1341.5 121.6a4 4 0 1 0 8 0a4 4 0 1 0 -8 0M1349.5 121.6a4 4 0 1 0 8 0a4 4 0 1 0 -8 0M1351.5 121.6a4 4 0 1 0 8 0a4 4 0 1 0 -8 0M1353.5 121.6a4 4 0 1 0 8 0a4 4 0 1 0 -8 0M1359.5 121.6a4 4 0 1 0 8 0a4 4 0 1 0 -8 0M1361.5 121.6a4 4 0 1 0 8 0a4 4 0 1 0 -8 0M1363.5 121.6a4 4 0 1 0 8 0a4 4 0 1 0 -8 0M1381.5 121.6a4 4 0 1 0 8 0a4 4 0 1 0 -8 0M1383.5 121.6a4 4 0 1 0 8 0a4 4 0 1 0 -8 0M1385.5 121.6a4 4 0 1 0 8 0a4 4 0 1 0 -8 0M1387.5 121.6a4 4 0 1 0 8 0a4 4 0 1 0 -8 0M1389.5 121.6a4 4 0 1 0 8 0a4 4 0 1 0 -8 0M1397.5 121.6a4 4 0 1 0 8 0a4 4 0 1 0 -8 0M1399.5 121.6a4 4 0 1 0 8 0a4 4 0 1 0 -8 0M1405.5 121.6a4 4 0 1 0 8 0a4 4 0 1 0 -8 0M1407.5 121.6a4 4 0 1 0 8 0a4 4 0 1 0 -8 0M1409.5 121.6a4 4 0 1 0 8 0a4 4 0 1 0 -8 0M1411.5 121.6a4 4 0 1 0 8 0a4 4 0 1 0 -8 0M1412 121.6a4 4 0 1 0 8 0a4 4 0 1 0 -8 0M1418 121.6a4 4 0 1 0 8 0a4 4 0 1 0 -8 0M1424 121.6a4 4 0 1 0 8 0a4 4 0 1 0 -8 0M1430 121.6a4 4 0 1 0 8 0a4 4 0 1 0 -8 0M1436 121.6a4 4 0 1 0 8 0a4 4 0 1 0 -8 0M1442 121.6a4 4 0 1 0 8 0a4 4 0 1 0 -8 0M1448 121.6a4 4 0 1 0 8 0a4 4 0 1 0 -8 0M1454 121.6a4 4 0 1 0 8 0a4 4 0 1 0 -8 0M1460 121.6a4 4 0 1 0 8 0a4 4 0 1 0 -8 0M1466 121.6a4 4 0 1 0 8 0a4 4 0 1 0 -8 0M1472 121.6a4 4 0 1 0 8 0a4 4 0 1 0 -8 0M1478 121.6a4 4 0 1 0 8 0a4 4 0 1 0 -8 0M1484 121.6a4 4 0 1 0 8 0a4 4 0 1 0 -8 0M1490 121.6a4 4 0 1 0 8 0a4 4 0 1 0 -8 0M1496 121.6a4 4 0 1 0 8 0a4 4 0 1 0 -8 0M1502 121.6a4 4 0 1 0 8 0a4 4 0 1 0 -8 0M1508 121.6a4 4 0 1 0 8 0a4 4 0 1 0 -8 0M1514 121.6a4 4 0 1 0 8 0a4 4 0 1 0 -8 0M1520 121.6a4 4 0 1 0 8 0a4 4 0 1 0 -8 0M1526 121.6a4 4 0 1 0 8 0a4 4 0 1 0 -8 0M1532 121.6a4 4 0 1 0 8 0a4 4 0 1 0 -8 0M1538 121.6a4 4 0 1 0 8 0a4 4 0 1 0 -8 0M1544 121.6a4 4 0 1 0 8 0a4 4 0 1 0 -8 0M1550 121.6a4 4 0 1 0 8 0a4 4 0 1 0 -8 0M1553.8 121.6a4 4 0 1 0 8 0a4 4 0 1 0 -8 0" fill="#ff0000"/>
<path d="M942.7 120.5V534.6M941.6 533.5H1558.9" stroke="#000" stroke-width="2.5" fill="none"/>
<path d="M930.7 533.5H942.7M942.7 533.5V544.5M930.7 451.12H942.7M1065.72 533.5V544.5M930.7 368.74H942.7M1188.74 533.5V544.5M930.7 286.36H942.7M1311.76 533.5V544.5M930.7 203.98H942.7M1434.78 533.5V544.5M930.7 121.6H942.7M1557.8 533.5V544.5" stroke="#000" stroke-width="2.4" fill="none"/>
<polyline points="942.7,533.5 946.5,533.5 950.2,533.5 950.2,510.62 955.4,510.62 955.4,499.18 955.4,487.73 955.4,476.29 955.4,464.85 955.4,453.41 955.4,441.97 955.4,430.52 957.8,419.08 957.8,407.64 957.8,396.2 957.8,384.76 957.8,373.32 960.2,373.32 960.2,361.88 960.2,350.43 960.2,338.99 960.2,327.55 962.5,327.55 963,316.11 964.2,304.67 964.5,293.23 969.5,293.23 970.5,281.78 972.5,281.78 972.7,270.34 990.6,270.34 990.6,258.9 994,258.9 994,247.46 994,236.02 994,224.58 999,224.58 999,213.13 1010.6,213.13 1010.6,201.69 1015,201.69 1015,190.25 1034.5,190.25 1035,178.81 1047.5,178.81 1048.3,167.37 1169.5,167.37 1169.5,155.93 1182,155.93 1182,144.48 1262,144.48 1262,133.04 1416,133.04 1416,121.6 1557.8,121.6" fill="none" stroke="#0000ff" stroke-width="4" stroke-linejoin="round" stroke-linecap="round"/>
<path d="M938.7 533.5a4 4 0 1 0 8 0a4 4 0 1 0 -8 0M942.5 533.5a4 4 0 1 0 8 0a4 4 0 1 0 -8 0M946.2 533.5a4 4 0 1 0 8 0a4 4 0 1 0 -8 0M946.2 510.62a4 4 0 1 0 8 0a4 4 0 1 0 -8 0M948.8 510.62a4 4 0 1 0 8 0a4 4 0 1 0 -8 0M951.4 510.62a4 4 0 1 0 8 0a4 4 0 1 0 -8 0M951.4 499.18a4 4 0 1 0 8 0a4 4 0 1 0 -8 0M951.4 487.73a4 4 0 1 0 8 0a4 4 0 1 0 -8 0M951.4 476.29a4 4 0 1 0 8 0a4 4 0 1 0 -8 0M951.4 464.85a4 4 0 1 0 8 0a4 4 0 1 0 -8 0M951.4 453.41a4 4 0 1 0 8 0a4 4 0 1 0 -8 0M951.4 441.97a4 4 0 1 0 8 0a4 4 0 1 0 -8 0M951.4 430.52a4 4 0 1 0 8 0a4 4 0 1 0 -8 0M953.8 419.08a4 4 0 1 0 8 0a4 4 0 1 0 -8 0M953.8 407.64a4 4 0 1 0 8 0a4 4 0 1 0 -8 0M953.8 396.2a4 4 0 1 0 8 0a4 4 0 1 0 -8 0M953.8 384.76a4 4 0 1 0 8 0a4 4 0 1 0 -8 0M953.8 373.32a4 4 0 1 0 8 0a4 4 0 1 0 -8 0M956.2 373.32a4 4 0 1 0 8 0a4 4 0 1 0 -8 0M956.2 361.88a4 4 0 1 0 8 0a4 4 0 1 0 -8 0M956.2 350.43a4 4 0 1 0 8 0a4 4 0 1 0 -8 0M956.2 338.99a4 4 0 1 0 8 0a4 4 0 1 0 -8 0M956.2 327.55a4 4 0 1 0 8 0a4 4 0 1 0 -8 0M958.5 327.55a4 4 0 1 0 8 0a4 4 0 1 0 -8 0M959 316.11a4 4 0 1 0 8 0a4 4 0 1 0 -8 0M960.2 304.67a4 4 0 1 0 8 0a4 4 0 1 0 -8 0M960.5 293.23a4 4 0 1 0 8 0a4 4 0 1 0 -8 0M963 293.23a4 4 0 1 0 8 0a4 4 0 1 0 -8 0M965.5 293.23a4 4 0 1 0 8 0a4 4 0 1 0 -8 0M966.5 281.78a4 4 0 1 0 8 0a4 4 0 1 0 -8 0M968.5 281.78a4 4 0 1 0 8 0a4 4 0 1 0 -8 0M968.7 270.34a4 4 0 1 0 8 0a4 4 0 1 0 -8 0M970.94 270.34a4 4 0 1 0 8 0a4 4 0 1 0 -8 0M973.18 270.34a4 4 0 1 0 8 0a4 4 0 1 0 -8 0M975.41 270.34a4 4 0 1 0 8 0a4 4 0 1 0 -8 0M977.65 270.34a4 4 0 1 0 8 0a4 4 0 1 0 -8 0M979.89 270.34a4 4 0 1 0 8 0a4 4 0 1 0 -8 0M982.12 270.34a4 4 0 1 0 8 0a4 4 0 1 0 -8 0M984.36 270.34a4 4 0 1 0 8 0a4 4 0 1 0 -8 0M986.6 270.34a4 4 0 1 0 8 0a4 4 0 1 0 -8 0M986.6 258.9a4 4 0 1 0 8 0a4 4 0 1 0 -8 0M990 258.9a4 4 0 1 0 8 0a4 4 0 1 0 -8 0M990 247.46a4 4 0 1 0 8 0a4 4 0 1 0 -8 0M990 236.02a4 4 0 1 0 8 0a4 4 0 1 0 -8 0M990 224.58a4 4 0 1 0 8 0a4 4 0 1 0 -8 0M992.5 224.58a4 4 0 1 0 8 0a4 4 0 1 0 -8 0M995 224.58a4 4 0 1 0 8 0a4 4 0 1 0 -8 0M995 213.13a4 4 0 1 0 8 0a4 4 0 1 0 -8 0M997.32 213.13a4 4 0 1 0 8 0a4 4 0 1 0 -8 0M999.64 213.13a4 4 0 1 0 8 0a4 4 0 1 0 -8 0M1001.96 213.13a4 4 0 1 0 8 0a4 4 0 1 0 -8 0M1004.28 213.13a4 4 0 1 0 8 0a4 4 0 1 0 -8 0M1006.6 213.13a4 4 0 1 0 8 0a4 4 0 1 0 -8 0M1006.6 201.69a4 4 0 1 0 8 0a4 4 0 1 0 -8 0M1008.8 201.69a4 4 0 1 0 8 0a4 4 0 1 0 -8 0M1011 201.69a4 4 0 1 0 8 0a4 4 0 1 0 -8 0M1011 190.25a4 4 0 1 0 8 0a4 4 0 1 0 -8 0M1013.17 190.25a4 4 0 1 0 8 0a4 4 0 1 0 -8 0M1015.33 190.25a4 4 0 1 0 8 0a4 4 0 1 0 -8 0M1017.5 190.25a4 4 0 1 0 8 0a4 4 0 1 0 -8 0M1019.67 190.25a4 4 0 1 0 8 0a4 4 0 1 0 -8 0M1021.83 190.25a4 4 0 1 0 8 0a4 4 0 1 0 -8 0M1024 190.25a4 4 0 1 0 8 0a4 4 0 1 0 -8 0M1026.17 190.25a4 4 0 1 0 8 0a4 4 0 1 0 -8 0M1028.33 190.25a4 4 0 1 0 8 0a4 4 0 1 0 -8 0M1030.5 190.25a4 4 0 1 0 8 0a4 4 0 1 0 -8 0M1031 178.81a4 4 0 1 0 8 0a4 4 0 1 0 -8 0M1033.08 178.81a4 4 0 1 0 8 0a4 4 0 1 0 -8 0M1035.17 178.81a4 4 0 1 0 8 0a4 4 0 1 0 -8 0M1037.25 178.81a4 4 0 1 0 8 0a4 4 0 1 0 -8 0M1039.33 178.81a4 4 0 1 0 8 0a4 4 0 1 0 -8 0M1041.42 178.81a4 4 0 1 0 8 0a4 4 0 1 0 -8 0M1043.5 178.81a4 4 0 1 0 8 0a4 4 0 1 0 -8 0M1044.3 167.37a4 4 0 1 0 8 0a4 4 0 1 0 -8 0M1046.32 167.37a4 4 0 1 0 8 0a4 4 0 1 0 -8 0M1048.34 167.37a4 4 0 1 0 8 0a4 4 0 1 0 -8 0M1050.36 167.37a4 4 0 1 0 8 0a4 4 0 1 0 -8 0M1052.38 167.37a4 4 0 1 0 8 0a4 4 0 1 0 -8 0M1054.4 167.37a4 4 0 1 0 8 0a4 4 0 1 0 -8 0M1056.42 167.37a4 4 0 1 0 8 0a4 4 0 1 0 -8 0M1058.44 167.37a4 4 0 1 0 8 0a4 4 0 1 0 -8 0M1060.46 167.37a4 4 0 1 0 8 0a4 4 0 1 0 -8 0M1062.48 167.37a4 4 0 1 0 8 0a4 4 0 1 0 -8 0M1064.5 167.37a4 4 0 1 0 8 0a4 4 0 1 0 -8 0M1066.52 167.37a4 4 0 1 0 8 0a4 4 0 1 0 -8 0M1068.54 167.37a4 4 0 1 0 8 0a4 4 0 1 0 -8 0M1070.56 167.37a4 4 0 1 0 8 0a4 4 0 1 0 -8 0M1072.58 167.37a4 4 0 1 0 8 0a4 4 0 1 0 -8 0M1074.6 167.37a4 4 0 1 0 8 0a4 4 0 1 0 -8 0M1076.62 167.37a4 4 0 1 0 8 0a4 4 0 1 0 -8 0M1078.64 167.37a4 4 0 1 0 8 0a4 4 0 1 0 -8 0M1080.66 167.37a4 4 0 1 0 8 0a4 4 0 1 0 -8 0M1082.68 167.37a4 4 0 1 0 8 0a4 4 0 1 0 -8 0M1084.7 167.37a4 4 0 1 0 8 0a4 4 0 1 0 -8 0M1086.72 167.37a4 4 0 1 0 8 0a4 4 0 1 0 -8 0M1088.74 167.37a4 4 0 1 0 8 0a4 4 0 1 0 -8 0M1090.76 167.37a4 4 0 1 0 8 0a4 4 0 1 0 -8 0M1092.78 167.37a4 4 0 1 0 8 0a4 4 0 1 0 -8 0M1094.8 167.37a4 4 0 1 0 8 0a4 4 0 1 0 -8 0M1096.82 167.37a4 4 0 1 0 8 0a4 4 0 1 0 -8 0M1098.84 167.37a4 4 0 1 0 8 0a4 4 0 1 0 -8 0M1100.86 167.37a4 4 0 1 0 8 0a4 4 0 1 0 -8 0M1102.88 167.37a4 4 0 1 0 8 0a4 4 0 1 0 -8 0M1104.9 167.37a4 4 0 1 0 8 0a4 4 0 1 0 -8 0M1106.92 167.37a4 4 0 1 0 8 0a4 4 0 1 0 -8 0M1108.94 167.37a4 4 0 1 0 8 0a4 4 0 1 0 -8 0M1110.96 167.37a4 4 0 1 0 8 0a4 4 0 1 0 -8 0M1112.98 167.37a4 4 0 1 0 8 0a4 4 0 1 0 -8 0M1115 167.37a4 4 0 1 0 8 0a4 4 0 1 0 -8 0M1117.02 167.37a4 4 0 1 0 8 0a4 4 0 1 0 -8 0M1119.04 167.37a4 4 0 1 0 8 0a4 4 0 1 0 -8 0M1121.06 167.37a4 4 0 1 0 8 0a4 4 0 1 0 -8 0M1123.08 167.37a4 4 0 1 0 8 0a4 4 0 1 0 -8 0M1125.1 167.37a4 4 0 1 0 8 0a4 4 0 1 0 -8 0M1127.12 167.37a4 4 0 1 0 8 0a4 4 0 1 0 -8 0M1129.14 167.37a4 4 0 1 0 8 0a4 4 0 1 0 -8 0M1131.16 167.37a4 4 0 1 0 8 0a4 4 0 1 0 -8 0M1133.18 167.37a4 4 0 1 0 8 0a4 4 0 1 0 -8 0M1135.2 167.37a4 4 0 1 0 8 0a4 4 0 1 0 -8 0M1137.22 167.37a4 4 0 1 0 8 0a4 4 0 1 0 -8 0M1139.24 167.37a4 4 0 1 0 8 0a4 4 0 1 0 -8 0M1141.26 167.37a4 4 0 1 0 8 0a4 4 0 1 0 -8 0M1143.28 167.37a4 4 0 1 0 8 0a4 4 0 1 0 -8 0M1145.3 167.37a4 4 0 1 0 8 0a4 4 0 1 0 -8 0M1147.32 167.37a4 4 0 1 0 8 0a4 4 0 1 0 -8 0M1149.34 167.37a4 4 0 1 0 8 0a4 4 0 1 0 -8 0M1151.36 167.37a4 4 0 1 0 8 0a4 4 0 1 0 -8 0M1153.38 167.37a4 4 0 1 0 8 0a4 4 0 1 0 -8 0M1155.4 167.37a4 4 0 1 0 8 0a4 4 0 1 0 -8 0M1157.42 167.37a4 4 0 1 0 8 0a4 4 0 1 0 -8 0M1159.44 167.37a4 4 0 1 0 8 0a4 4 0 1 0 -8 0M1161.46 167.37a4 4 0 1 0 8 0a4 4 0 1 0 -8 0M1163.48 167.37a4 4 0 1 0 8 0a4 4 0 1 0 -8 0M1165.5 167.37a4 4 0 1 0 8 0a4 4 0 1 0 -8 0M1165.5 155.93a4 4 0 1 0 8 0a4 4 0 1 0 -8 0M1167.58 155.93a4 4 0 1 0 8 0a4 4 0 1 0 -8 0M1169.67 155.93a4 4 0 1 0 8 0a4 4 0 1 0 -8 0M1171.75 155.93a4 4 0 1 0 8 0a4 4 0 1 0 -8 0M1173.83 155.93a4 4 0 1 0 8 0a4 4 0 1 0 -8 0M1175.92 155.93a4 4 0 1 0 8 0a4 4 0 1 0 -8 0M1178 155.93a4 4 0 1 0 8 0a4 4 0 1 0 -8 0M1178 144.48a4 4 0 1 0 8 0a4 4 0 1 0 -8 0M1180 144.48a4 4 0 1 0 8 0a4 4 0 1 0 -8 0M1182 144.48a4 4 0 1 0 8 0a4 4 0 1 0 -8 0M1184 144.48a4 4 0 1 0 8 0a4 4 0 1 0 -8 0M1186 144.48a4 4 0 1 0 8 0a4 4 0 1 0 -8 0M1188 144.48a4 4 0 1 0 8 0a4 4 0 1 0 -8 0M1190 144.48a4 4 0 1 0 8 0a4 4 0 1 0 -8 0M1192 144.48a4 4 0 1 0 8 0a4 4 0 1 0 -8 0M1194 144.48a4 4 0 1 0 8 0a4 4 0 1 0 -8 0M1196 144.48a4 4 0 1 0 8 0a4 4 0 1 0 -8 0M1198 144.48a4 4 0 1 0 8 0a4 4 0 1 0 -8 0M1200 144.48a4 4 0 1 0 8 0a4 4 0 1 0 -8 0M1202 144.48a4 4 0 1 0 8 0a4 4 0 1 0 -8 0M1204 144.48a4 4 0 1 0 8 0a4 4 0 1 0 -8 0M1206 144.48a4 4 0 1 0 8 0a4 4 0 1 0 -8 0M1208 144.48a4 4 0 1 0 8 0a4 4 0 1 0 -8 0M1210 144.48a4 4 0 1 0 8 0a4 4 0 1 0 -8 0M1212 144.48a4 4 0 1 0 8 0a4 4 0 1 0 -8 0M1214 144.48a4 4 0 1 0 8 0a4 4 0 1 0 -8 0M1216 144.48a4 4 0 1 0 8 0a4 4 0 1 0 -8 0M1218 144.48a4 4 0 1 0 8 0a4 4 0 1 0 -8 0M1220 144.48a4 4 0 1 0 8 0a4 4 0 1 0 -8 0M1222 144.48a4 4 0 1 0 8 0a4 4 0 1 0 -8 0M1224 144.48a4 4 0 1 0 8 0a4 4 0 1 0 -8 0M1226 144.48a4 4 0 1 0 8 0a4 4 0 1 0 -8 0M1228 144.48a4 4 0 1 0 8 0a4 4 0 1 0 -8 0M1230 144.48a4 4 0 1 0 8 0a4 4 0 1 0 -8 0M1232 144.48a4 4 0 1 0 8 0a4 4 0 1 0 -8 0M1234 144.48a4 4 0 1 0 8 0a4 4 0 1 0 -8 0M1236 144.48a4 4 0 1 0 8 0a4 4 0 1 0 -8 0M1238 144.48a4 4 0 1 0 8 0a4 4 0 1 0 -8 0M1240 144.48a4 4 0 1 0 8 0a4 4 0 1 0 -8 0M1242 144.48a4 4 0 1 0 8 0a4 4 0 1 0 -8 0M1244 144.48a4 4 0 1 0 8 0a4 4 0 1 0 -8 0M1246 144.48a4 4 0 1 0 8 0a4 4 0 1 0 -8 0M1248 144.48a4 4 0 1 0 8 0a4 4 0 1 0 -8 0M1250 144.48a4 4 0 1 0 8 0a4 4 0 1 0 -8 0M1252 144.48a4 4 0 1 0 8 0a4 4 0 1 0 -8 0M1254 144.48a4 4 0 1 0 8 0a4 4 0 1 0 -8 0M1256 144.48a4 4 0 1 0 8 0a4 4 0 1 0 -8 0M1258 144.48a4 4 0 1 0 8 0a4 4 0 1 0 -8 0M1258 133.04a4 4 0 1 0 8 0a4 4 0 1 0 -8 0M1260 133.04a4 4 0 1 0 8 0a4 4 0 1 0 -8 0M1262 133.04a4 4 0 1 0 8 0a4 4 0 1 0 -8 0M1264 133.04a4 4 0 1 0 8 0a4 4 0 1 0 -8 0M1266 133.04a4 4 0 1 0 8 0a4 4 0 1 0 -8 0M1268 133.04a4 4 0 1 0 8 0a4 4 0 1 0 -8 0M1270 133.04a4 4 0 1 0 8 0a4 4 0 1 0 -8 0M1272 133.04a4 4 0 1 0 8 0a4 4 0 1 0 -8 0M1274 133.04a4 4 0 1 0 8 0a4 4 0 1 0 -8 0M1276 133.04a4 4 0 1 0 8 0a4 4 0 1 0 -8 0M1278 133.04a4 4 0 1 0 8 0a4 4 0 1 0 -8 0M1280 133.04a4 4 0 1 0 8 0a4 4 0 1 0 -8 0M1282 133.04a4 4 0 1 0 8 0a4 4 0 1 0 -8 0M1284 133.04a4 4 0 1 0 8 0a4 4 0 1 0 -8 0M1286 133.04a4 4 0 1 0 8 0a4 4 0 1 0 -8 0M1288 133.04a4 4 0 1 0 8 0a4 4 0 1 0 -8 0M1290 133.04a4 4 0 1 0 8 0a4 4 0 1 0 -8 0M1292 133.04a4 4 0 1 0 8 0a4 4 0 1 0 -8 0M1294 133.04a4 4 0 1 0 8 0a4 4 0 1 0 -8 0M1296 133.04a4 4 0 1 0 8 0a4 4 0 1 0 -8 0M1298 133.04a4 4 0 1 0 8 0a4 4 0 1 0 -8 0M1300 133.04a4 4 0 1 0 8 0a4 4 0 1 0 -8 0M1302 133.04a4 4 0 1 0 8 0a4 4 0 1 0 -8 0M1304 133.04a4 4 0 1 0 8 0a4 4 0 1 0 -8 0M1306 133.04a4 4 0 1 0 8 0a4 4 0 1 0 -8 0M1308 133.04a4 4 0 1 0 8 0a4 4 0 1 0 -8 0M1310 133.04a4 4 0 1 0 8 0a4 4 0 1 0 -8 0M1312 133.04a4 4 0 1 0 8 0a4 4 0 1 0 -8 0M1314 133.04a4 4 0 1 0 8 0a4 4 0 1 0 -8 0M1316 133.04a4 4 0 1 0 8 0a4 4 0 1 0 -8 0M1318 133.04a4 4 0 1 0 8 0a4 4 0 1 0 -8 0M1320 133.04a4 4 0 1 0 8 0a4 4 0 1 0 -8 0M1322 133.04a4 4 0 1 0 8 0a4 4 0 1 0 -8 0M1324 133.04a4 4 0 1 0 8 0a4 4 0 1 0 -8 0M1326 133.04a4 4 0 1 0 8 0a4 4 0 1 0 -8 0M1328 133.04a4 4 0 1 0 8 0a4 4 0 1 0 -8 0M1330 133.04a4 4 0 1 0 8 0a4 4 0 1 0 -8 0M1332 133.04a4 4 0 1 0 8 0a4 4 0 1 0 -8 0M1334 133.04a4 4 0 1 0 8 0a4 4 0 1 0 -8 0M1336 133.04a4 4 0 1 0 8 0a4 4 0 1 0 -8 0M1338 133.04a4 4 0 1 0 8 0a4 4 0 1 0 -8 0M1340 133.04a4 4 0 1 0 8 0a4 4 0 1 0 -8 0M1342 133.04a4 4 0 1 0 8 0a4 4 0 1 0 -8 0M1344 133.04a4 4 0 1 0 8 0a4 4 0 1 0 -8 0M1346 133.04a4 4 0 1 0 8 0a4 4 0 1 0 -8 0M1348 133.04a4 4 0 1 0 8 0a4 4 0 1 0 -8 0M1350 133.04a4 4 0 1 0 8 0a4 4 0 1 0 -8 0M1352 133.04a4 4 0 1 0 8 0a4 4 0 1 0 -8 0M1354 133.04a4 4 0 1 0 8 0a4 4 0 1 0 -8 0M1356 133.04a4 4 0 1 0 8 0a4 4 0 1 0 -8 0M1358 133.04a4 4 0 1 0 8 0a4 4 0 1 0 -8 0M1360 133.04a4 4 0 1 0 8 0a4 4 0 1 0 -8 0M1362 133.04a4 4 0 1 0 8 0a4 4 0 1 0 -8 0M1364 133.04a4 4 0 1 0 8 0a4 4 0 1 0 -8 0M1366 133.04a4 4 0 1 0 8 0a4 4 0 1 0 -8 0M1368 133.04a4 4 0 1 0 8 0a4 4 0 1 0 -8 0M1370 133.04a4 4 0 1 0 8 0a4 4 0 1 0 -8 0M1372 133.04a4 4 0 1 0 8 0a4 4 0 1 0 -8 0M1374 133.04a4 4 0 1 0 8 0a4 4 0 1 0 -8 0M1376 133.04a4 4 0 1 0 8 0a4 4 0 1 0 -8 0M1378 133.04a4 4 0 1 0 8 0a4 4 0 1 0 -8 0M1380 133.04a4 4 0 1 0 8 0a4 4 0 1 0 -8 0M1382 133.04a4 4 0 1 0 8 0a4 4 0 1 0 -8 0M1384 133.04a4 4 0 1 0 8 0a4 4 0 1 0 -8 0M1386 133.04a4 4 0 1 0 8 0a4 4 0 1 0 -8 0M1388 133.04a4 4 0 1 0 8 0a4 4 0 1 0 -8 0M1390 133.04a4 4 0 1 0 8 0a4 4 0 1 0 -8 0M1392 133.04a4 4 0 1 0 8 0a4 4 0 1 0 -8 0M1394 133.04a4 4 0 1 0 8 0a4 4 0 1 0 -8 0M1396 133.04a4 4 0 1 0 8 0a4 4 0 1 0 -8 0M1398 133.04a4 4 0 1 0 8 0a4 4 0 1 0 -8 0M1400 133.04a4 4 0 1 0 8 0a4 4 0 1 0 -8 0M1402 133.04a4 4 0 1 0 8 0a4 4 0 1 0 -8 0M1404 133.04a4 4 0 1 0 8 0a4 4 0 1 0 -8 0M1406 133.04a4 4 0 1 0 8 0a4 4 0 1 0 -8 0M1408 133.04a4 4 0 1 0 8 0a4 4 0 1 0 -8 0M1410 133.04a4 4 0 1 0 8 0a4 4 0 1 0 -8 0M1412 133.04a4 4 0 1 0 8 0a4 4 0 1 0 -8 0M1412 121.6a4 4 0 1 0 8 0a4 4 0 1 0 -8 0M1414.03 121.6a4 4 0 1 0 8 0a4 4 0 1 0 -8 0M1416.05 121.6a4 4 0 1 0 8 0a4 4 0 1 0 -8 0M1418.08 121.6a4 4 0 1 0 8 0a4 4 0 1 0 -8 0M1420.1 121.6a4 4 0 1 0 8 0a4 4 0 1 0 -8 0M1422.13 121.6a4 4 0 1 0 8 0a4 4 0 1 0 -8 0M1424.15 121.6a4 4 0 1 0 8 0a4 4 0 1 0 -8 0M1426.18 121.6a4 4 0 1 0 8 0a4 4 0 1 0 -8 0M1428.21 121.6a4 4 0 1 0 8 0a4 4 0 1 0 -8 0M1430.23 121.6a4 4 0 1 0 8 0a4 4 0 1 0 -8 0M1432.26 121.6a4 4 0 1 0 8 0a4 4 0 1 0 -8 0M1434.28 121.6a4 4 0 1 0 8 0a4 4 0 1 0 -8 0M1436.31 121.6a4 4 0 1 0 8 0a4 4 0 1 0 -8 0M1438.33 121.6a4 4 0 1 0 8 0a4 4 0 1 0 -8 0M1440.36 121.6a4 4 0 1 0 8 0a4 4 0 1 0 -8 0M1442.39 121.6a4 4 0 1 0 8 0a4 4 0 1 0 -8 0M1444.41 121.6a4 4 0 1 0 8 0a4 4 0 1 0 -8 0M1446.44 121.6a4 4 0 1 0 8 0a4 4 0 1 0 -8 0M1448.46 121.6a4 4 0 1 0 8 0a4 4 0 1 0 -8 0M1450.49 121.6a4 4 0 1 0 8 0a4 4 0 1 0 -8 0M1452.51 121.6a4 4 0 1 0 8 0a4 4 0 1 0 -8 0M1454.54 121.6a4 4 0 1 0 8 0a4 4 0 1 0 -8 0M1456.57 121.6a4 4 0 1 0 8 0a4 4 0 1 0 -8 0M1458.59 121.6a4 4 0 1 0 8 0a4 4 0 1 0 -8 0M1460.62 121.6a4 4 0 1 0 8 0a4 4 0 1 0 -8 0M1462.64 121.6a4 4 0 1 0 8 0a4 4 0 1 0 -8 0M1464.67 121.6a4 4 0 1 0 8 0a4 4 0 1 0 -8 0M1466.69 121.6a4 4 0 1 0 8 0a4 4 0 1 0 -8 0M1468.72 121.6a4 4 0 1 0 8 0a4 4 0 1 0 -8 0M1470.75 121.6a4 4 0 1 0 8 0a4 4 0 1 0 -8 0M1472.77 121.6a4 4 0 1 0 8 0a4 4 0 1 0 -8 0M1474.8 121.6a4 4 0 1 0 8 0a4 4 0 1 0 -8 0M1476.82 121.6a4 4 0 1 0 8 0a4 4 0 1 0 -8 0M1478.85 121.6a4 4 0 1 0 8 0a4 4 0 1 0 -8 0M1480.87 121.6a4 4 0 1 0 8 0a4 4 0 1 0 -8 0M1482.9 121.6a4 4 0 1 0 8 0a4 4 0 1 0 -8 0M1484.93 121.6a4 4 0 1 0 8 0a4 4 0 1 0 -8 0M1486.95 121.6a4 4 0 1 0 8 0a4 4 0 1 0 -8 0M1488.98 121.6a4 4 0 1 0 8 0a4 4 0 1 0 -8 0M1491 121.6a4 4 0 1 0 8 0a4 4 0 1 0 -8 0M1493.03 121.6a4 4 0 1 0 8 0a4 4 0 1 0 -8 0M1495.05 121.6a4 4 0 1 0 8 0a4 4 0 1 0 -8 0M1497.08 121.6a4 4 0 1 0 8 0a4 4 0 1 0 -8 0M1499.11 121.6a4 4 0 1 0 8 0a4 4 0 1 0 -8 0M1501.13 121.6a4 4 0 1 0 8 0a4 4 0 1 0 -8 0M1503.16 121.6a4 4 0 1 0 8 0a4 4 0 1 0 -8 0M1505.18 121.6a4 4 0 1 0 8 0a4 4 0 1 0 -8 0M1507.21 121.6a4 4 0 1 0 8 0a4 4 0 1 0 -8 0M1509.23 121.6a4 4 0 1 0 8 0a4 4 0 1 0 -8 0M1511.26 121.6a4 4 0 1 0 8 0a4 4 0 1 0 -8 0M1513.29 121.6a4 4 0 1 0 8 0a4 4 0 1 0 -8 0M1515.31 121.6a4 4 0 1 0 8 0a4 4 0 1 0 -8 0M1517.34 121.6a4 4 0 1 0 8 0a4 4 0 1 0 -8 0M1519.36 121.6a4 4 0 1 0 8 0a4 4 0 1 0 -8 0M1521.39 121.6a4 4 0 1 0 8 0a4 4 0 1 0 -8 0M1523.41 121.6a4 4 0 1 0 8 0a4 4 0 1 0 -8 0M1525.44 121.6a4 4 0 1 0 8 0a4 4 0 1 0 -8 0M1527.47 121.6a4 4 0 1 0 8 0a4 4 0 1 0 -8 0M1529.49 121.6a4 4 0 1 0 8 0a4 4 0 1 0 -8 0M1531.52 121.6a4 4 0 1 0 8 0a4 4 0 1 0 -8 0M1533.54 121.6a4 4 0 1 0 8 0a4 4 0 1 0 -8 0M1535.57 121.6a4 4 0 1 0 8 0a4 4 0 1 0 -8 0M1537.59 121.6a4 4 0 1 0 8 0a4 4 0 1 0 -8 0M1539.62 121.6a4 4 0 1 0 8 0a4 4 0 1 0 -8 0M1541.65 121.6a4 4 0 1 0 8 0a4 4 0 1 0 -8 0M1543.67 121.6a4 4 0 1 0 8 0a4 4 0 1 0 -8 0M1545.7 121.6a4 4 0 1 0 8 0a4 4 0 1 0 -8 0M1547.72 121.6a4 4 0 1 0 8 0a4 4 0 1 0 -8 0M1549.75 121.6a4 4 0 1 0 8 0a4 4 0 1 0 -8 0M1551.77 121.6a4 4 0 1 0 8 0a4 4 0 1 0 -8 0M1553.8 121.6a4 4 0 1 0 8 0a4 4 0 1 0 -8 0" fill="#0000ff"/>
<text transform="translate(930.3 544.55) scale(0.965 1)" text-anchor="end" class="tk">0</text>
<text transform="translate(942.7 574.5) scale(0.965 1)" text-anchor="middle" class="tk">0</text>
<text transform="translate(930.3 462.17) scale(0.965 1)" text-anchor="end" class="tk">20</text>
<text transform="translate(1065.72 574.5) scale(0.965 1)" text-anchor="middle" class="tk">20</text>
<text transform="translate(930.3 379.79) scale(0.965 1)" text-anchor="end" class="tk">40</text>
<text transform="translate(1188.74 574.5) scale(0.965 1)" text-anchor="middle" class="tk">40</text>
<text transform="translate(930.3 297.41) scale(0.965 1)" text-anchor="end" class="tk">60</text>
<text transform="translate(1311.76 574.5) scale(0.965 1)" text-anchor="middle" class="tk">60</text>
<text transform="translate(930.3 215.03) scale(0.965 1)" text-anchor="end" class="tk">80</text>
<text transform="translate(1434.78 574.5) scale(0.965 1)" text-anchor="middle" class="tk">80</text>
<text transform="translate(930.3 132.65) scale(0.965 1)" text-anchor="end" class="tk">100</text>
<text transform="translate(1557.8 574.5) scale(0.965 1)" text-anchor="middle" class="tk">100</text>
<text transform="translate(425.8 631.9) scale(0.919 1)" text-anchor="middle" class="at">100 - Specificity (%)</text>
<text transform="translate(1251 630.8) scale(0.919 1)" text-anchor="middle" class="at">100 - Specificity (%)</text>
<text transform="translate(29.4 327.85) rotate(-90) scale(0.9145 1)" text-anchor="middle" class="at">Sensitivity&#160;&#160;(%)</text>
<text transform="translate(853.4 327.05) rotate(-90) scale(0.9145 1)" text-anchor="middle" class="at">Sensitivity&#160;&#160;(%)</text>
<path d="M1652 149.7H1697" stroke="#ff0000" stroke-width="4" stroke-linecap="round"/>
<circle cx="1674.5" cy="149.7" r="3.8" fill="#ff0000"/>
<text transform="translate(1721 161.2) scale(0.985 1)" class="lg">ROMA</text>
<path d="M1652 181.4H1697" stroke="#127e03" stroke-width="4" stroke-linecap="round"/>
<circle cx="1674.5" cy="181.4" r="3.8" fill="#127e03"/>
<text transform="translate(1721 192.9)" class="lg">HE4</text>
<path d="M1652 213.1H1697" stroke="#0000ff" stroke-width="4" stroke-linecap="round"/>
<circle cx="1674.5" cy="213.1" r="3.8" fill="#0000ff"/>
<text transform="translate(1720.7 224.6) scale(1.022 1)" class="lg">Ca125</text>
</svg>
</body></html>
